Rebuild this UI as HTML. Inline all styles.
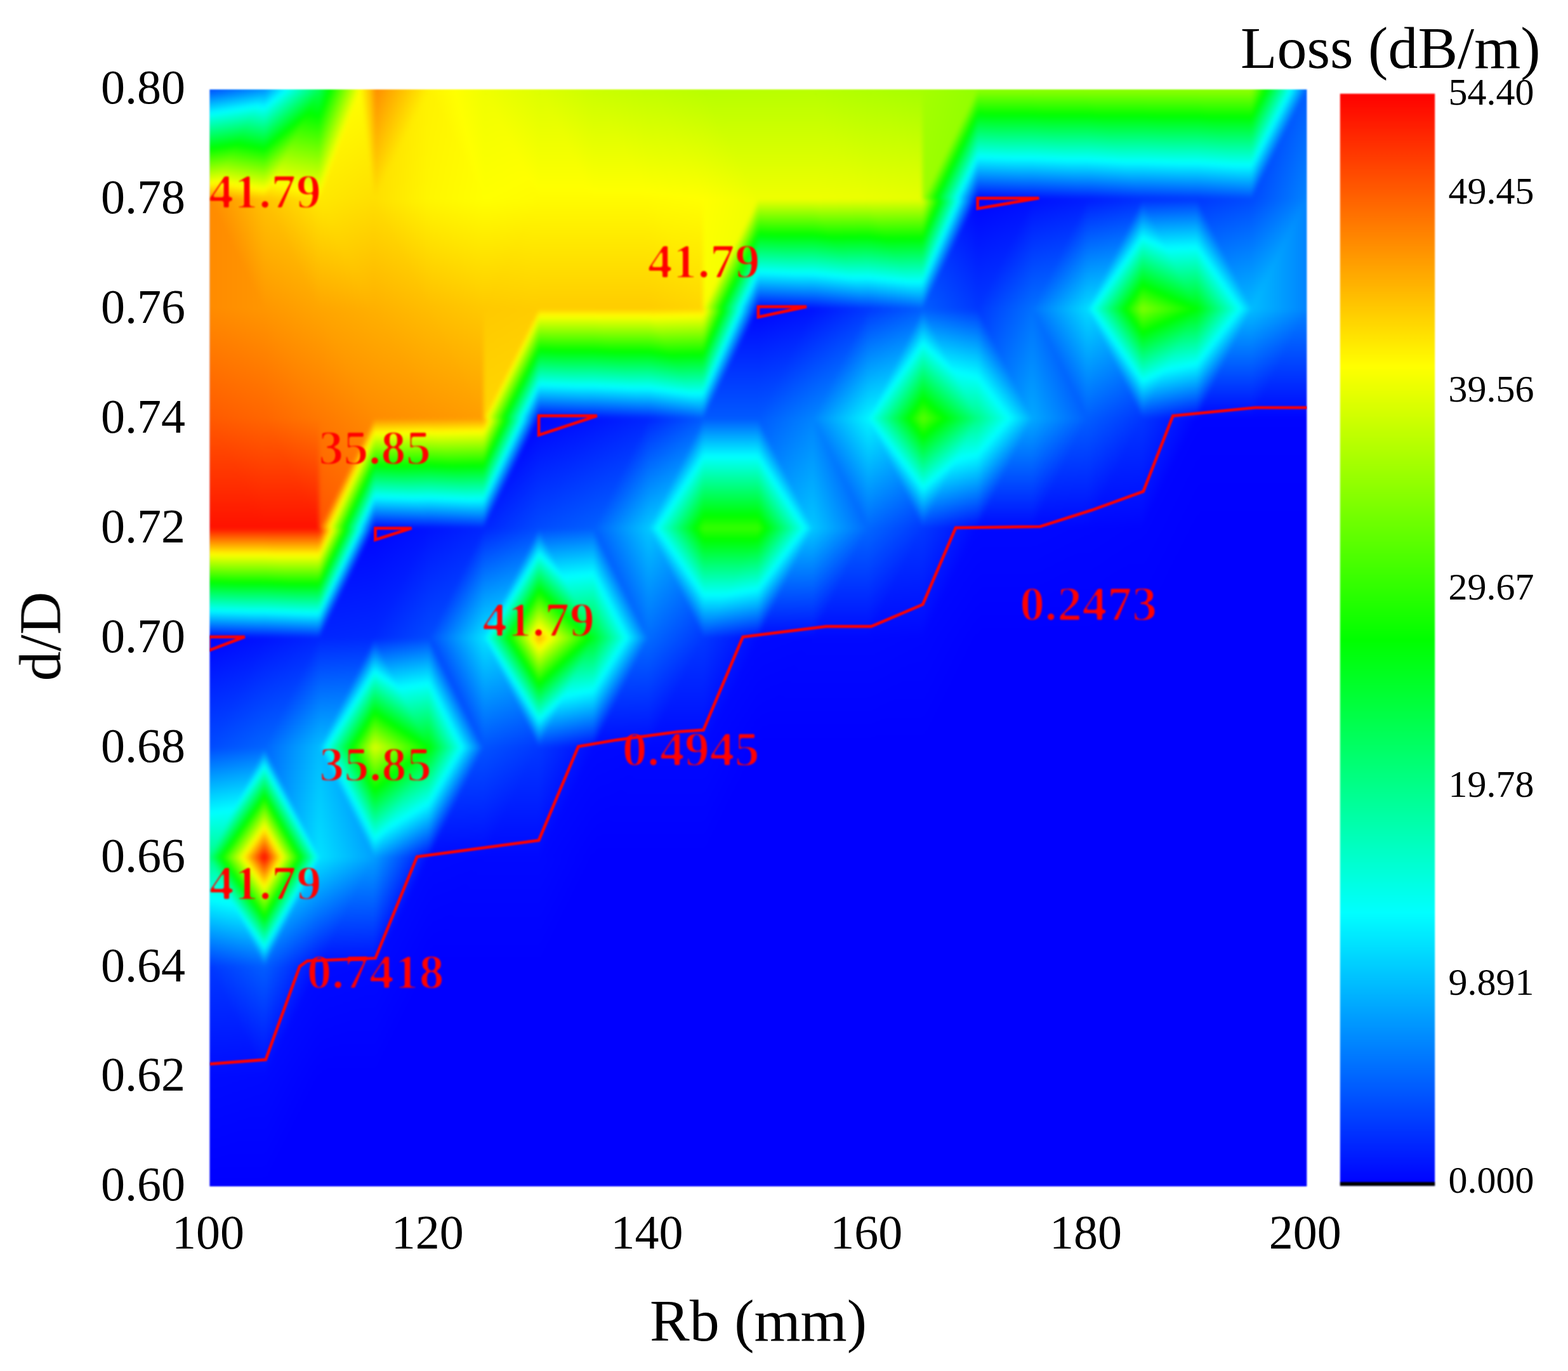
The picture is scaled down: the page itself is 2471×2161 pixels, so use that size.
<!DOCTYPE html>
<html lang="en">
<head>
<meta charset="utf-8">
<title>Loss (dB/m) contour map: d/D versus Rb (mm)</title>
<style>
html,body{margin:0;padding:0;background:#fff;}
body{width:2471px;height:2161px;overflow:hidden;}
svg{display:block;font-family:"Liberation Serif","DejaVu Serif",serif;}
.tk{font-size:76px;fill:#000;}
.cb{font-size:60px;fill:#000;}
.ttl{font-size:94px;fill:#000;}
.lab text{font-size:78.7px;font-weight:bold;fill:#ff0000;}
.cl path{fill:none;stroke:#ff0000;stroke-width:4.7;stroke-linejoin:miter;}
.map polygon{stroke-width:1.2;stroke-linejoin:round;}
</style>
</head>
<body>
<svg width="2471" height="2161" viewBox="0 0 2471 2161">
<defs>
<filter id="soft" filterUnits="userSpaceOnUse" x="300" y="110" width="1800" height="1800" color-interpolation-filters="sRGB"><feGaussianBlur stdDeviation="3.0"/><feComponentTransfer><feFuncA type="linear" slope="200" intercept="0"/></feComponentTransfer></filter>
<filter id="edge" filterUnits="userSpaceOnUse" x="300" y="110" width="2000" height="1800" color-interpolation-filters="sRGB"><feGaussianBlur stdDeviation="0.9"/></filter>
<filter id="softb" filterUnits="userSpaceOnUse" x="300" y="110" width="1800" height="1800" color-interpolation-filters="sRGB"><feGaussianBlur stdDeviation="1.5"/><feComponentTransfer><feFuncA type="linear" slope="2.5" intercept="-1.4"/></feComponentTransfer><feGaussianBlur stdDeviation="0.8"/></filter>
<filter id="softl" filterUnits="userSpaceOnUse" x="300" y="110" width="1800" height="1800" color-interpolation-filters="sRGB"><feGaussianBlur stdDeviation="1.2"/></filter>
<filter id="softt" filterUnits="userSpaceOnUse" x="0" y="0" width="2471" height="2161" color-interpolation-filters="sRGB"><feGaussianBlur stdDeviation="0.45"/></filter>
<clipPath id="pc"><rect x="330.5" y="141.1" width="1728.8" height="1728.8"/></clipPath>
<linearGradient id="cbg" x1="0" y1="1" x2="0" y2="0">
<stop offset="0" stop-color="#0000ff"/><stop offset="0.25" stop-color="#00ffff"/><stop offset="0.5" stop-color="#00ff00"/><stop offset="0.75" stop-color="#ffff00"/><stop offset="1" stop-color="#ff0000"/>
</linearGradient>
<linearGradient gradientUnits="userSpaceOnUse" id="g1" x1="388.1" y1="1869.9" x2="388.1" y2="1697.0"><stop offset="0" stop-color="#0000ff"/><stop offset="1" stop-color="#0009ff"/></linearGradient>
<linearGradient gradientUnits="userSpaceOnUse" id="g2" x1="391.0" y1="1849.7" x2="339.1" y2="1694.1"><stop offset="0" stop-color="#0000ff"/><stop offset="1" stop-color="#000bff"/></linearGradient>
<linearGradient gradientUnits="userSpaceOnUse" id="g3" x1="468.8" y1="1766.2" x2="399.7" y2="1731.6"><stop offset="0" stop-color="#0000ff"/><stop offset="1" stop-color="#0009ff"/></linearGradient>
<linearGradient gradientUnits="userSpaceOnUse" id="g4" x1="364.5" y1="1701.4" x2="349.6" y2="1522.6"><stop offset="0" stop-color="#0009ff"/><stop offset="1" stop-color="#0038ff"/></linearGradient>
<linearGradient gradientUnits="userSpaceOnUse" id="g5" x1="343.6" y1="1631.8" x2="429.5" y2="1535.3"><stop offset="0" stop-color="#0009ff"/><stop offset="1" stop-color="#005eff"/></linearGradient>
<linearGradient gradientUnits="userSpaceOnUse" id="g6" x1="521.2" y1="1667.4" x2="444.9" y2="1621.6"><stop offset="0" stop-color="#0000ff"/><stop offset="1" stop-color="#000bff"/></linearGradient>
<linearGradient gradientUnits="userSpaceOnUse" id="g7" x1="469.6" y1="1594.0" x2="399.6" y2="1558.1"><stop offset="0" stop-color="#0009ff"/><stop offset="1" stop-color="#005eff"/></linearGradient>
<linearGradient gradientUnits="userSpaceOnUse" id="g8" x1="561.0" y1="1697.0" x2="561.0" y2="1524.1"><stop offset="0" stop-color="#0000ff"/><stop offset="1" stop-color="#0009ff"/></linearGradient>
<linearGradient gradientUnits="userSpaceOnUse" id="g9" x1="563.9" y1="1676.9" x2="512.0" y2="1521.3"><stop offset="0" stop-color="#0000ff"/><stop offset="1" stop-color="#000bff"/></linearGradient>
<linearGradient gradientUnits="userSpaceOnUse" id="g10" x1="641.7" y1="1593.3" x2="572.5" y2="1558.7"><stop offset="0" stop-color="#0000ff"/><stop offset="1" stop-color="#0009ff"/></linearGradient>
<linearGradient gradientUnits="userSpaceOnUse" id="g11" x1="345.0" y1="1527.5" x2="383.5" y2="1363.7"><stop offset="0" stop-color="#0038ff"/><stop offset="0.6235" stop-color="#00ffff"/><stop offset="1" stop-color="#00ff87"/></linearGradient>
<linearGradient gradientUnits="userSpaceOnUse" id="g12" x1="352.5" y1="1434.4" x2="434.4" y2="1375.6"><stop offset="0" stop-color="#005eff"/><stop offset="0.1741" stop-color="#00ffff"/><stop offset="0.4494" stop-color="#00ff00"/><stop offset="0.7247" stop-color="#ffff00"/><stop offset="1" stop-color="#ff0000"/></linearGradient>
<linearGradient gradientUnits="userSpaceOnUse" id="g13" x1="513.2" y1="1516.6" x2="429.6" y2="1408.2"><stop offset="0" stop-color="#000bff"/><stop offset="1" stop-color="#00e1ff"/></linearGradient>
<linearGradient gradientUnits="userSpaceOnUse" id="g14" x1="474.4" y1="1425.6" x2="399.2" y2="1381.8"><stop offset="0" stop-color="#005eff"/><stop offset="0.1741" stop-color="#00ffff"/><stop offset="0.4494" stop-color="#00ff00"/><stop offset="0.7247" stop-color="#ffff00"/><stop offset="1" stop-color="#ff0000"/></linearGradient>
<linearGradient gradientUnits="userSpaceOnUse" id="g15" x1="562.5" y1="1524.8" x2="558.1" y2="1352.1"><stop offset="0" stop-color="#0009ff"/><stop offset="1" stop-color="#009fff"/></linearGradient>
<linearGradient gradientUnits="userSpaceOnUse" id="g16" x1="575.7" y1="1479.7" x2="498.6" y2="1354.2"><stop offset="0" stop-color="#000bff"/><stop offset="1" stop-color="#00e1ff"/></linearGradient>
<linearGradient gradientUnits="userSpaceOnUse" id="g17" x1="693.5" y1="1489.6" x2="624.4" y2="1455.0"><stop offset="0" stop-color="#0000ff"/><stop offset="1" stop-color="#0009ff"/></linearGradient>
<linearGradient gradientUnits="userSpaceOnUse" id="g18" x1="641.7" y1="1420.4" x2="572.5" y2="1385.8"><stop offset="0" stop-color="#0009ff"/><stop offset="1" stop-color="#009fff"/></linearGradient>
<linearGradient gradientUnits="userSpaceOnUse" id="g19" x1="733.9" y1="1524.1" x2="733.9" y2="1351.3"><stop offset="0" stop-color="#0000ff"/><stop offset="1" stop-color="#0008ff"/></linearGradient>
<linearGradient gradientUnits="userSpaceOnUse" id="g20" x1="740.8" y1="1498.3" x2="681.2" y2="1349.3"><stop offset="0" stop-color="#0000ff"/><stop offset="1" stop-color="#0009ff"/></linearGradient>
<linearGradient gradientUnits="userSpaceOnUse" id="g21" x1="820.3" y1="1524.1" x2="820.3" y2="1351.3"><stop offset="0" stop-color="#0000ff"/><stop offset="1" stop-color="#0008ff"/></linearGradient>
<linearGradient gradientUnits="userSpaceOnUse" id="g22" x1="791.5" y1="1524.1" x2="791.5" y2="1351.3"><stop offset="0" stop-color="#0000ff"/><stop offset="1" stop-color="#0008ff"/></linearGradient>
<linearGradient gradientUnits="userSpaceOnUse" id="g23" x1="901.0" y1="1420.4" x2="831.9" y2="1385.8"><stop offset="0" stop-color="#0000ff"/><stop offset="1" stop-color="#0008ff"/></linearGradient>
<linearGradient gradientUnits="userSpaceOnUse" id="g24" x1="352.8" y1="1268.5" x2="434.5" y2="1326.6"><stop offset="0" stop-color="#0065ff"/><stop offset="0.1673" stop-color="#00ffff"/><stop offset="0.4449" stop-color="#00ff00"/><stop offset="0.7224" stop-color="#ffff00"/><stop offset="1" stop-color="#ff0000"/></linearGradient>
<linearGradient gradientUnits="userSpaceOnUse" id="g25" x1="348.7" y1="1175.2" x2="378.0" y2="1342.9"><stop offset="0" stop-color="#004bff"/><stop offset="0.6" stop-color="#00ffff"/><stop offset="1" stop-color="#00ff87"/></linearGradient>
<linearGradient gradientUnits="userSpaceOnUse" id="g26" x1="474.1" y1="1277.3" x2="399.2" y2="1320.5"><stop offset="0" stop-color="#0065ff"/><stop offset="0.1673" stop-color="#00ffff"/><stop offset="0.4449" stop-color="#00ff00"/><stop offset="0.7224" stop-color="#ffff00"/><stop offset="1" stop-color="#ff0000"/></linearGradient>
<linearGradient gradientUnits="userSpaceOnUse" id="g27" x1="407.6" y1="1221.4" x2="526.0" y2="1247.2"><stop offset="0" stop-color="#0065ff"/><stop offset="1" stop-color="#00e1ff"/></linearGradient>
<linearGradient gradientUnits="userSpaceOnUse" id="g28" x1="570.2" y1="1282.8" x2="490.3" y2="1305.6"><stop offset="0" stop-color="#009fff"/><stop offset="1" stop-color="#00e1ff"/></linearGradient>
<linearGradient gradientUnits="userSpaceOnUse" id="g29" x1="536.1" y1="1249.1" x2="607.3" y2="1211.7"><stop offset="0" stop-color="#009fff"/><stop offset="0.1672" stop-color="#00ffff"/><stop offset="0.6131" stop-color="#00ff00"/><stop offset="1" stop-color="#ddff00"/></linearGradient>
<linearGradient gradientUnits="userSpaceOnUse" id="g30" x1="680.6" y1="1348.6" x2="604.1" y2="1221.9"><stop offset="0" stop-color="#0009ff"/><stop offset="0.4943" stop-color="#00ffff"/><stop offset="1" stop-color="#00ff04"/></linearGradient>
<linearGradient gradientUnits="userSpaceOnUse" id="g31" x1="663.6" y1="1293.2" x2="579.6" y2="1186.4"><stop offset="0" stop-color="#009fff"/><stop offset="0.1672" stop-color="#00ffff"/><stop offset="0.6131" stop-color="#00ff00"/><stop offset="1" stop-color="#ddff00"/></linearGradient>
<linearGradient gradientUnits="userSpaceOnUse" id="g32" x1="736.8" y1="1352.6" x2="728.2" y2="1180.1"><stop offset="0" stop-color="#0008ff"/><stop offset="1" stop-color="#0052ff"/></linearGradient>
<linearGradient gradientUnits="userSpaceOnUse" id="g33" x1="733.9" y1="1252.9" x2="658.5" y2="1208.7"><stop offset="0" stop-color="#0009ff"/><stop offset="0.4943" stop-color="#00ffff"/><stop offset="1" stop-color="#00ff04"/></linearGradient>
<linearGradient gradientUnits="userSpaceOnUse" id="g34" x1="820.3" y1="1351.3" x2="820.3" y2="1178.4"><stop offset="0" stop-color="#0008ff"/><stop offset="1" stop-color="#0038ff"/></linearGradient>
<linearGradient gradientUnits="userSpaceOnUse" id="g35" x1="836.2" y1="1299.8" x2="755.0" y2="1183.8"><stop offset="0" stop-color="#0008ff"/><stop offset="1" stop-color="#0052ff"/></linearGradient>
<linearGradient gradientUnits="userSpaceOnUse" id="g36" x1="953.4" y1="1322.8" x2="875.7" y2="1274.2"><stop offset="0" stop-color="#0000ff"/><stop offset="1" stop-color="#0009ff"/></linearGradient>
<linearGradient gradientUnits="userSpaceOnUse" id="g37" x1="902.4" y1="1248.7" x2="831.7" y2="1211.9"><stop offset="0" stop-color="#0008ff"/><stop offset="1" stop-color="#0038ff"/></linearGradient>
<linearGradient gradientUnits="userSpaceOnUse" id="g38" x1="993.2" y1="1351.3" x2="993.2" y2="1178.4"><stop offset="0" stop-color="#0000ff"/><stop offset="1" stop-color="#0008ff"/></linearGradient>
<linearGradient gradientUnits="userSpaceOnUse" id="g39" x1="1000.2" y1="1325.4" x2="940.5" y2="1176.4"><stop offset="0" stop-color="#0000ff"/><stop offset="1" stop-color="#0009ff"/></linearGradient>
<linearGradient gradientUnits="userSpaceOnUse" id="g40" x1="1079.6" y1="1351.3" x2="1079.6" y2="1178.4"><stop offset="0" stop-color="#0000ff"/><stop offset="1" stop-color="#0008ff"/></linearGradient>
<linearGradient gradientUnits="userSpaceOnUse" id="g41" x1="1050.8" y1="1351.3" x2="1050.8" y2="1178.4"><stop offset="0" stop-color="#0000ff"/><stop offset="1" stop-color="#0008ff"/></linearGradient>
<linearGradient gradientUnits="userSpaceOnUse" id="g42" x1="1160.3" y1="1247.5" x2="1091.2" y2="1213.0"><stop offset="0" stop-color="#0000ff"/><stop offset="1" stop-color="#0008ff"/></linearGradient>
<linearGradient gradientUnits="userSpaceOnUse" id="g43" x1="344.2" y1="1051.8" x2="422.5" y2="1174.8"><stop offset="0" stop-color="#0013ff"/><stop offset="1" stop-color="#0065ff"/></linearGradient>
<linearGradient gradientUnits="userSpaceOnUse" id="g44" x1="334.4" y1="1003.9" x2="396.2" y2="1150.7"><stop offset="0" stop-color="#0004ff"/><stop offset="1" stop-color="#004bff"/></linearGradient>
<linearGradient gradientUnits="userSpaceOnUse" id="g45" x1="433.9" y1="1085.4" x2="519.5" y2="1159.8"><stop offset="0" stop-color="#0026ff"/><stop offset="1" stop-color="#00bcff"/></linearGradient>
<linearGradient gradientUnits="userSpaceOnUse" id="g46" x1="419.1" y1="1004.5" x2="484.2" y2="1147.8"><stop offset="0" stop-color="#0013ff"/><stop offset="1" stop-color="#0065ff"/></linearGradient>
<linearGradient gradientUnits="userSpaceOnUse" id="g47" x1="529.4" y1="1100.7" x2="607.6" y2="1150.3"><stop offset="0" stop-color="#0029ff"/><stop offset="0.3098" stop-color="#00ffff"/><stop offset="0.6793" stop-color="#00ff00"/><stop offset="1" stop-color="#ddff00"/></linearGradient>
<linearGradient gradientUnits="userSpaceOnUse" id="g48" x1="529.2" y1="1004.2" x2="537.9" y2="1176.7"><stop offset="0" stop-color="#0026ff"/><stop offset="1" stop-color="#00bcff"/></linearGradient>
<linearGradient gradientUnits="userSpaceOnUse" id="g49" x1="662.8" y1="1053.1" x2="583.7" y2="1174.4"><stop offset="0" stop-color="#0029ff"/><stop offset="0.3098" stop-color="#00ffff"/><stop offset="0.6793" stop-color="#00ff00"/><stop offset="1" stop-color="#ddff00"/></linearGradient>
<linearGradient gradientUnits="userSpaceOnUse" id="g50" x1="637.3" y1="998.1" x2="665.7" y2="1180.0"><stop offset="0" stop-color="#0029ff"/><stop offset="0.4597" stop-color="#00ffff"/><stop offset="1" stop-color="#00ff04"/></linearGradient>
<linearGradient gradientUnits="userSpaceOnUse" id="g51" x1="728.8" y1="1108.7" x2="658.9" y2="1144.3"><stop offset="0" stop-color="#004bff"/><stop offset="0.4174" stop-color="#00ffff"/><stop offset="1" stop-color="#00ff04"/></linearGradient>
<linearGradient gradientUnits="userSpaceOnUse" id="g52" x1="709.2" y1="1074.9" x2="779.7" y2="1041.4"><stop offset="0" stop-color="#004bff"/><stop offset="1" stop-color="#00e1ff"/></linearGradient>
<linearGradient gradientUnits="userSpaceOnUse" id="g53" x1="817.1" y1="1190.2" x2="750.7" y2="1009.9"><stop offset="0" stop-color="#0038ff"/><stop offset="1" stop-color="#00e1ff"/></linearGradient>
<linearGradient gradientUnits="userSpaceOnUse" id="g54" x1="788.6" y1="1083.3" x2="866.9" y2="1033.5"><stop offset="0" stop-color="#0038ff"/><stop offset="0.2524" stop-color="#00ffff"/><stop offset="0.5762" stop-color="#00ff00"/><stop offset="0.9" stop-color="#ffff00"/><stop offset="1" stop-color="#ffb000"/></linearGradient>
<linearGradient gradientUnits="userSpaceOnUse" id="g55" x1="919.0" y1="1181.7" x2="885.7" y2="1015.5"><stop offset="0" stop-color="#0009ff"/><stop offset="0.524" stop-color="#00ffff"/><stop offset="1" stop-color="#00ff20"/></linearGradient>
<linearGradient gradientUnits="userSpaceOnUse" id="g56" x1="922.1" y1="1110.6" x2="835.9" y2="1017.8"><stop offset="0" stop-color="#0038ff"/><stop offset="0.2524" stop-color="#00ffff"/><stop offset="0.5762" stop-color="#00ff00"/><stop offset="0.9" stop-color="#ffff00"/><stop offset="1" stop-color="#ffb000"/></linearGradient>
<linearGradient gradientUnits="userSpaceOnUse" id="g57" x1="995.4" y1="1179.4" x2="988.9" y2="1006.7"><stop offset="0" stop-color="#0008ff"/><stop offset="1" stop-color="#006bff"/></linearGradient>
<linearGradient gradientUnits="userSpaceOnUse" id="g58" x1="995.8" y1="1083.0" x2="917.8" y2="1033.7"><stop offset="0" stop-color="#0009ff"/><stop offset="0.524" stop-color="#00ffff"/><stop offset="1" stop-color="#00ff20"/></linearGradient>
<linearGradient gradientUnits="userSpaceOnUse" id="g59" x1="1079.6" y1="1178.4" x2="1079.6" y2="1005.5"><stop offset="0" stop-color="#0008ff"/><stop offset="1" stop-color="#0038ff"/></linearGradient>
<linearGradient gradientUnits="userSpaceOnUse" id="g60" x1="1093.8" y1="1105.3" x2="1007.3" y2="1020.4"><stop offset="0" stop-color="#0008ff"/><stop offset="1" stop-color="#006bff"/></linearGradient>
<linearGradient gradientUnits="userSpaceOnUse" id="g61" x1="1212.7" y1="1149.9" x2="1135.0" y2="1101.3"><stop offset="0" stop-color="#0000ff"/><stop offset="1" stop-color="#0009ff"/></linearGradient>
<linearGradient gradientUnits="userSpaceOnUse" id="g62" x1="1161.8" y1="1075.9" x2="1091.0" y2="1039.1"><stop offset="0" stop-color="#0008ff"/><stop offset="1" stop-color="#0038ff"/></linearGradient>
<linearGradient gradientUnits="userSpaceOnUse" id="g63" x1="1252.5" y1="1178.4" x2="1252.5" y2="1005.5"><stop offset="0" stop-color="#0000ff"/><stop offset="1" stop-color="#0008ff"/></linearGradient>
<linearGradient gradientUnits="userSpaceOnUse" id="g64" x1="1259.5" y1="1152.5" x2="1199.9" y2="1003.5"><stop offset="0" stop-color="#0000ff"/><stop offset="1" stop-color="#0009ff"/></linearGradient>
<linearGradient gradientUnits="userSpaceOnUse" id="g65" x1="1339.0" y1="1178.4" x2="1339.0" y2="1005.5"><stop offset="0" stop-color="#0000ff"/><stop offset="1" stop-color="#0008ff"/></linearGradient>
<linearGradient gradientUnits="userSpaceOnUse" id="g66" x1="1310.2" y1="1178.4" x2="1310.2" y2="1005.5"><stop offset="0" stop-color="#0000ff"/><stop offset="1" stop-color="#0008ff"/></linearGradient>
<linearGradient gradientUnits="userSpaceOnUse" id="g67" x1="1425.4" y1="1178.4" x2="1425.4" y2="1005.5"><stop offset="0" stop-color="#0000ff"/><stop offset="1" stop-color="#0006ff"/></linearGradient>
<linearGradient gradientUnits="userSpaceOnUse" id="g68" x1="1436.9" y1="1143.8" x2="1367.8" y2="1005.5"><stop offset="0" stop-color="#0000ff"/><stop offset="1" stop-color="#0008ff"/></linearGradient>
<linearGradient gradientUnits="userSpaceOnUse" id="g69" x1="1506.1" y1="1074.7" x2="1436.9" y2="1040.1"><stop offset="0" stop-color="#0000ff"/><stop offset="1" stop-color="#0006ff"/></linearGradient>
<linearGradient gradientUnits="userSpaceOnUse" id="g70" x1="357.6" y1="1006.3" x2="362.7" y2="833.6"><stop offset="0" stop-color="#0004ff"/><stop offset="0.2514" stop-color="#00ffff"/><stop offset="0.5066" stop-color="#00ff00"/><stop offset="0.7617" stop-color="#ffff00"/><stop offset="1" stop-color="#ff1100"/></linearGradient>
<linearGradient gradientUnits="userSpaceOnUse" id="g71" x1="388.1" y1="1005.5" x2="388.1" y2="832.6"><stop offset="0" stop-color="#0013ff"/><stop offset="0.24" stop-color="#00ffff"/><stop offset="0.499" stop-color="#00ff00"/><stop offset="0.7581" stop-color="#ffff00"/><stop offset="1" stop-color="#ff1100"/></linearGradient>
<linearGradient gradientUnits="userSpaceOnUse" id="g72" x1="443.5" y1="1006.5" x2="450.1" y2="833.9"><stop offset="0" stop-color="#0013ff"/><stop offset="0.24" stop-color="#00ffff"/><stop offset="0.499" stop-color="#00ff00"/><stop offset="0.7581" stop-color="#ffff00"/><stop offset="1" stop-color="#ff1100"/></linearGradient>
<linearGradient gradientUnits="userSpaceOnUse" id="g73" x1="474.6" y1="1005.5" x2="474.6" y2="832.6"><stop offset="0" stop-color="#0026ff"/><stop offset="0.2252" stop-color="#00ffff"/><stop offset="0.4893" stop-color="#00ff00"/><stop offset="0.7534" stop-color="#ffff00"/><stop offset="1" stop-color="#ff1100"/></linearGradient>
<linearGradient gradientUnits="userSpaceOnUse" id="g74" x1="540.0" y1="842.6" x2="573.2" y2="1008.8"><stop offset="0" stop-color="#0004ff"/><stop offset="1" stop-color="#0029ff"/></linearGradient>
<linearGradient gradientUnits="userSpaceOnUse" id="g75" x1="556.3" y1="901.9" x2="486.3" y2="868.1"><stop offset="0" stop-color="#0004ff"/><stop offset="0.2514" stop-color="#00ffff"/><stop offset="0.5066" stop-color="#00ff00"/><stop offset="0.7617" stop-color="#ffff00"/><stop offset="1" stop-color="#ff1100"/></linearGradient>
<linearGradient gradientUnits="userSpaceOnUse" id="g76" x1="607.8" y1="914.8" x2="692.8" y2="985.7"><stop offset="0" stop-color="#0013ff"/><stop offset="1" stop-color="#004bff"/></linearGradient>
<linearGradient gradientUnits="userSpaceOnUse" id="g77" x1="579.3" y1="841.1" x2="663.6" y2="946.5"><stop offset="0" stop-color="#0004ff"/><stop offset="1" stop-color="#0029ff"/></linearGradient>
<linearGradient gradientUnits="userSpaceOnUse" id="g78" x1="702.8" y1="928.4" x2="780.5" y2="977.0"><stop offset="0" stop-color="#0026ff"/><stop offset="1" stop-color="#00e1ff"/></linearGradient>
<linearGradient gradientUnits="userSpaceOnUse" id="g79" x1="669.6" y1="837.1" x2="749.4" y2="956.7"><stop offset="0" stop-color="#0013ff"/><stop offset="1" stop-color="#004bff"/></linearGradient>
<linearGradient gradientUnits="userSpaceOnUse" id="g80" x1="789.5" y1="928.7" x2="866.9" y2="976.8"><stop offset="0" stop-color="#004bff"/><stop offset="0.2341" stop-color="#00ffff"/><stop offset="0.5659" stop-color="#00ff00"/><stop offset="0.8976" stop-color="#ffff00"/><stop offset="1" stop-color="#ffb000"/></linearGradient>
<linearGradient gradientUnits="userSpaceOnUse" id="g81" x1="767.7" y1="830.6" x2="827.3" y2="979.7"><stop offset="0" stop-color="#0026ff"/><stop offset="1" stop-color="#00e1ff"/></linearGradient>
<linearGradient gradientUnits="userSpaceOnUse" id="g82" x1="921.8" y1="901.8" x2="835.5" y2="992.5"><stop offset="0" stop-color="#004bff"/><stop offset="0.2341" stop-color="#00ffff"/><stop offset="0.5659" stop-color="#00ff00"/><stop offset="0.8976" stop-color="#ffff00"/><stop offset="1" stop-color="#ffb000"/></linearGradient>
<linearGradient gradientUnits="userSpaceOnUse" id="g83" x1="900.7" y1="827.6" x2="918.2" y2="1007.2"><stop offset="0" stop-color="#004bff"/><stop offset="0.4465" stop-color="#00ffff"/><stop offset="1" stop-color="#00ff20"/></linearGradient>
<linearGradient gradientUnits="userSpaceOnUse" id="g84" x1="988.7" y1="935.3" x2="918.1" y2="971.8"><stop offset="0" stop-color="#005eff"/><stop offset="0.4195" stop-color="#00ffff"/><stop offset="1" stop-color="#00ff20"/></linearGradient>
<linearGradient gradientUnits="userSpaceOnUse" id="g85" x1="966.0" y1="902.1" x2="1038.6" y2="870.4"><stop offset="0" stop-color="#005eff"/><stop offset="1" stop-color="#00c7ff"/></linearGradient>
<linearGradient gradientUnits="userSpaceOnUse" id="g86" x1="1111.1" y1="1002.6" x2="977.7" y2="881.5"><stop offset="0" stop-color="#0038ff"/><stop offset="1" stop-color="#00c7ff"/></linearGradient>
<linearGradient gradientUnits="userSpaceOnUse" id="g87" x1="1045.0" y1="914.3" x2="1126.1" y2="857.9"><stop offset="0" stop-color="#0038ff"/><stop offset="0.3926" stop-color="#00ffff"/><stop offset="0.8963" stop-color="#00ff00"/><stop offset="1" stop-color="#35ff00"/></linearGradient>
<linearGradient gradientUnits="userSpaceOnUse" id="g88" x1="1176.4" y1="1008.6" x2="1147.9" y2="840.6"><stop offset="0" stop-color="#0009ff"/><stop offset="0.4441" stop-color="#00ffff"/><stop offset="0.9051" stop-color="#00ff00"/><stop offset="1" stop-color="#35ff00"/></linearGradient>
<linearGradient gradientUnits="userSpaceOnUse" id="g89" x1="1137.3" y1="1005.5" x2="1137.3" y2="832.6"><stop offset="0" stop-color="#0038ff"/><stop offset="0.3926" stop-color="#00ffff"/><stop offset="0.8963" stop-color="#00ff00"/><stop offset="1" stop-color="#35ff00"/></linearGradient>
<linearGradient gradientUnits="userSpaceOnUse" id="g90" x1="1253.7" y1="1006.0" x2="1250.3" y2="833.2"><stop offset="0" stop-color="#0008ff"/><stop offset="1" stop-color="#00c7ff"/></linearGradient>
<linearGradient gradientUnits="userSpaceOnUse" id="g91" x1="1261.0" y1="918.6" x2="1177.7" y2="855.3"><stop offset="0" stop-color="#0009ff"/><stop offset="0.4441" stop-color="#00ffff"/><stop offset="0.9051" stop-color="#00ff00"/><stop offset="1" stop-color="#35ff00"/></linearGradient>
<linearGradient gradientUnits="userSpaceOnUse" id="g92" x1="1339.0" y1="1005.5" x2="1339.0" y2="832.6"><stop offset="0" stop-color="#0008ff"/><stop offset="1" stop-color="#0067ff"/></linearGradient>
<linearGradient gradientUnits="userSpaceOnUse" id="g93" x1="1353.4" y1="933.5" x2="1266.9" y2="847.0"><stop offset="0" stop-color="#0008ff"/><stop offset="1" stop-color="#00c7ff"/></linearGradient>
<linearGradient gradientUnits="userSpaceOnUse" id="g94" x1="1429.8" y1="1007.3" x2="1417.1" y2="835.4"><stop offset="0" stop-color="#0006ff"/><stop offset="1" stop-color="#0038ff"/></linearGradient>
<linearGradient gradientUnits="userSpaceOnUse" id="g95" x1="1440.1" y1="934.6" x2="1353.7" y2="846.5"><stop offset="0" stop-color="#0008ff"/><stop offset="1" stop-color="#0067ff"/></linearGradient>
<linearGradient gradientUnits="userSpaceOnUse" id="g96" x1="1558.4" y1="978.9" x2="1478.6" y2="925.7"><stop offset="0" stop-color="#0000ff"/><stop offset="1" stop-color="#0008ff"/></linearGradient>
<linearGradient gradientUnits="userSpaceOnUse" id="g97" x1="1507.5" y1="902.9" x2="1436.8" y2="866.2"><stop offset="0" stop-color="#0006ff"/><stop offset="1" stop-color="#0038ff"/></linearGradient>
<linearGradient gradientUnits="userSpaceOnUse" id="g98" x1="1598.3" y1="1005.5" x2="1598.3" y2="832.6"><stop offset="0" stop-color="#0000ff"/><stop offset="1" stop-color="#0008ff"/></linearGradient>
<linearGradient gradientUnits="userSpaceOnUse" id="g99" x1="1569.5" y1="1005.5" x2="1569.5" y2="832.6"><stop offset="0" stop-color="#0000ff"/><stop offset="1" stop-color="#0008ff"/></linearGradient>
<linearGradient gradientUnits="userSpaceOnUse" id="g100" x1="1684.7" y1="1005.5" x2="1684.7" y2="832.6"><stop offset="0" stop-color="#0000ff"/><stop offset="1" stop-color="#0006ff"/></linearGradient>
<linearGradient gradientUnits="userSpaceOnUse" id="g101" x1="1696.3" y1="970.9" x2="1627.1" y2="832.6"><stop offset="0" stop-color="#0000ff"/><stop offset="1" stop-color="#0008ff"/></linearGradient>
<linearGradient gradientUnits="userSpaceOnUse" id="g102" x1="1771.2" y1="1005.5" x2="1771.2" y2="832.6"><stop offset="0" stop-color="#0000ff"/><stop offset="1" stop-color="#0004ff"/></linearGradient>
<linearGradient gradientUnits="userSpaceOnUse" id="g103" x1="1786.7" y1="956.7" x2="1706.9" y2="837.1"><stop offset="0" stop-color="#0000ff"/><stop offset="1" stop-color="#0006ff"/></linearGradient>
<linearGradient gradientUnits="userSpaceOnUse" id="g104" x1="1851.8" y1="901.8" x2="1782.7" y2="867.2"><stop offset="0" stop-color="#0000ff"/><stop offset="1" stop-color="#0004ff"/></linearGradient>
<linearGradient gradientUnits="userSpaceOnUse" id="g105" x1="359.3" y1="659.7" x2="359.3" y2="832.6"><stop offset="0" stop-color="#ff5a00"/><stop offset="1" stop-color="#ff1100"/></linearGradient>
<linearGradient gradientUnits="userSpaceOnUse" id="g106" x1="404.4" y1="656.4" x2="361.3" y2="817.8"><stop offset="0" stop-color="#ff6500"/><stop offset="1" stop-color="#ff1100"/></linearGradient>
<linearGradient gradientUnits="userSpaceOnUse" id="g107" x1="445.8" y1="659.7" x2="445.8" y2="832.6"><stop offset="0" stop-color="#ff6500"/><stop offset="1" stop-color="#ff1100"/></linearGradient>
<linearGradient gradientUnits="userSpaceOnUse" id="g108" x1="496.4" y1="657.2" x2="440.9" y2="809.9"><stop offset="0" stop-color="#ff7800"/><stop offset="1" stop-color="#ff1100"/></linearGradient>
<linearGradient gradientUnits="userSpaceOnUse" id="g109" x1="606.8" y1="796.5" x2="536.0" y2="763.2"><stop offset="0" stop-color="#0004ff"/><stop offset="0.2691" stop-color="#00ffff"/><stop offset="0.5422" stop-color="#00ff00"/><stop offset="0.8153" stop-color="#ffff00"/><stop offset="1" stop-color="#ff5200"/></linearGradient>
<linearGradient gradientUnits="userSpaceOnUse" id="g110" x1="589.8" y1="659.7" x2="460.2" y2="789.4"><stop offset="0" stop-color="#ff8b00"/><stop offset="1" stop-color="#ff5200"/></linearGradient>
<linearGradient gradientUnits="userSpaceOnUse" id="g111" x1="616.6" y1="833.5" x2="622.5" y2="660.9"><stop offset="0" stop-color="#0004ff"/><stop offset="0.2863" stop-color="#00ffff"/><stop offset="0.5769" stop-color="#00ff00"/><stop offset="0.8675" stop-color="#ffff00"/><stop offset="1" stop-color="#ff8b00"/></linearGradient>
<linearGradient gradientUnits="userSpaceOnUse" id="g112" x1="650.0" y1="833.2" x2="646.2" y2="658.5"><stop offset="0" stop-color="#0013ff"/><stop offset="0.2739" stop-color="#00ffff"/><stop offset="0.5696" stop-color="#00ff00"/><stop offset="0.8652" stop-color="#ffff00"/><stop offset="1" stop-color="#ff8b00"/></linearGradient>
<linearGradient gradientUnits="userSpaceOnUse" id="g113" x1="702.5" y1="833.8" x2="710.1" y2="661.2"><stop offset="0" stop-color="#0013ff"/><stop offset="0.2769" stop-color="#00ffff"/><stop offset="0.5758" stop-color="#00ff00"/><stop offset="0.8747" stop-color="#ffff00"/><stop offset="1" stop-color="#ff9400"/></linearGradient>
<linearGradient gradientUnits="userSpaceOnUse" id="g114" x1="736.5" y1="833.2" x2="732.5" y2="658.5"><stop offset="0" stop-color="#0026ff"/><stop offset="0.2607" stop-color="#00ffff"/><stop offset="0.5663" stop-color="#00ff00"/><stop offset="0.8719" stop-color="#ffff00"/><stop offset="1" stop-color="#ff9400"/></linearGradient>
<linearGradient gradientUnits="userSpaceOnUse" id="g115" x1="777.9" y1="734.7" x2="864.2" y2="816.7"><stop offset="0" stop-color="#0004ff"/><stop offset="1" stop-color="#004bff"/></linearGradient>
<linearGradient gradientUnits="userSpaceOnUse" id="g116" x1="815.8" y1="729.1" x2="745.6" y2="695.3"><stop offset="0" stop-color="#0004ff"/><stop offset="0.2926" stop-color="#00ffff"/><stop offset="0.5895" stop-color="#00ff00"/><stop offset="0.8865" stop-color="#ffff00"/><stop offset="1" stop-color="#ff9e00"/></linearGradient>
<linearGradient gradientUnits="userSpaceOnUse" id="g117" x1="866.4" y1="694.3" x2="935.6" y2="832.6"><stop offset="0" stop-color="#0013ff"/><stop offset="1" stop-color="#005eff"/></linearGradient>
<linearGradient gradientUnits="userSpaceOnUse" id="g118" x1="853.0" y1="658.1" x2="914.8" y2="805.0"><stop offset="0" stop-color="#0004ff"/><stop offset="1" stop-color="#004bff"/></linearGradient>
<linearGradient gradientUnits="userSpaceOnUse" id="g119" x1="955.7" y1="746.2" x2="1039.2" y2="810.3"><stop offset="0" stop-color="#0026ff"/><stop offset="1" stop-color="#00c7ff"/></linearGradient>
<linearGradient gradientUnits="userSpaceOnUse" id="g120" x1="935.6" y1="659.7" x2="1004.7" y2="798.0"><stop offset="0" stop-color="#0013ff"/><stop offset="1" stop-color="#005eff"/></linearGradient>
<linearGradient gradientUnits="userSpaceOnUse" id="g121" x1="1047.3" y1="754.0" x2="1126.2" y2="805.3"><stop offset="0" stop-color="#005aff"/><stop offset="0.3492" stop-color="#00ffff"/><stop offset="0.8889" stop-color="#00ff00"/><stop offset="1" stop-color="#35ff00"/></linearGradient>
<linearGradient gradientUnits="userSpaceOnUse" id="g122" x1="1015.9" y1="663.7" x2="1095.0" y2="785.1"><stop offset="0" stop-color="#0026ff"/><stop offset="1" stop-color="#00c7ff"/></linearGradient>
<linearGradient gradientUnits="userSpaceOnUse" id="g123" x1="1166.1" y1="659.7" x2="1166.1" y2="832.6"><stop offset="0" stop-color="#005aff"/><stop offset="0.3492" stop-color="#00ffff"/><stop offset="0.8889" stop-color="#00ff00"/><stop offset="1" stop-color="#35ff00"/></linearGradient>
<linearGradient gradientUnits="userSpaceOnUse" id="g124" x1="1137.3" y1="659.7" x2="1137.3" y2="832.6"><stop offset="0" stop-color="#005aff"/><stop offset="0.3492" stop-color="#00ffff"/><stop offset="0.8889" stop-color="#00ff00"/><stop offset="1" stop-color="#35ff00"/></linearGradient>
<linearGradient gradientUnits="userSpaceOnUse" id="g125" x1="1256.1" y1="754.0" x2="1177.1" y2="805.3"><stop offset="0" stop-color="#005aff"/><stop offset="0.3492" stop-color="#00ffff"/><stop offset="0.8889" stop-color="#00ff00"/><stop offset="1" stop-color="#35ff00"/></linearGradient>
<linearGradient gradientUnits="userSpaceOnUse" id="g126" x1="1189.8" y1="666.0" x2="1326.3" y2="777.7"><stop offset="0" stop-color="#005aff"/><stop offset="1" stop-color="#00c7ff"/></linearGradient>
<linearGradient gradientUnits="userSpaceOnUse" id="g127" x1="1343.3" y1="763.3" x2="1266.4" y2="790.4"><stop offset="0" stop-color="#0067ff"/><stop offset="1" stop-color="#00c7ff"/></linearGradient>
<linearGradient gradientUnits="userSpaceOnUse" id="g128" x1="1307.9" y1="736.8" x2="1385.6" y2="688.2"><stop offset="0" stop-color="#0067ff"/><stop offset="1" stop-color="#00f4ff"/></linearGradient>
<linearGradient gradientUnits="userSpaceOnUse" id="g129" x1="1440.9" y1="841.5" x2="1334.5" y2="681.9"><stop offset="0" stop-color="#0038ff"/><stop offset="1" stop-color="#00f4ff"/></linearGradient>
<linearGradient gradientUnits="userSpaceOnUse" id="g130" x1="1388.0" y1="745.9" x2="1471.4" y2="682.3"><stop offset="0" stop-color="#0038ff"/><stop offset="0.3655" stop-color="#00ffff"/><stop offset="0.8345" stop-color="#00ff00"/><stop offset="1" stop-color="#5aff00"/></linearGradient>
<linearGradient gradientUnits="userSpaceOnUse" id="g131" x1="1528.0" y1="836.0" x2="1485.2" y2="674.5"><stop offset="0" stop-color="#0008ff"/><stop offset="0.6735" stop-color="#00ffff"/><stop offset="1" stop-color="#00ff87"/></linearGradient>
<linearGradient gradientUnits="userSpaceOnUse" id="g132" x1="1527.9" y1="771.6" x2="1443.0" y2="669.0"><stop offset="0" stop-color="#0038ff"/><stop offset="0.3655" stop-color="#00ffff"/><stop offset="0.8345" stop-color="#00ff00"/><stop offset="1" stop-color="#5aff00"/></linearGradient>
<linearGradient gradientUnits="userSpaceOnUse" id="g133" x1="1598.3" y1="832.6" x2="1598.3" y2="659.7"><stop offset="0" stop-color="#0008ff"/><stop offset="1" stop-color="#00a9ff"/></linearGradient>
<linearGradient gradientUnits="userSpaceOnUse" id="g134" x1="1610.7" y1="754.1" x2="1524.8" y2="677.6"><stop offset="0" stop-color="#0008ff"/><stop offset="0.6735" stop-color="#00ffff"/><stop offset="1" stop-color="#00ff87"/></linearGradient>
<linearGradient gradientUnits="userSpaceOnUse" id="g135" x1="1687.2" y1="833.7" x2="1679.9" y2="661.2"><stop offset="0" stop-color="#0006ff"/><stop offset="1" stop-color="#005eff"/></linearGradient>
<linearGradient gradientUnits="userSpaceOnUse" id="g136" x1="1700.0" y1="764.8" x2="1613.8" y2="672.1"><stop offset="0" stop-color="#0008ff"/><stop offset="1" stop-color="#00a9ff"/></linearGradient>
<linearGradient gradientUnits="userSpaceOnUse" id="g137" x1="1775.6" y1="834.4" x2="1762.8" y2="662.5"><stop offset="0" stop-color="#0004ff"/><stop offset="1" stop-color="#0036ff"/></linearGradient>
<linearGradient gradientUnits="userSpaceOnUse" id="g138" x1="1786.8" y1="767.1" x2="1700.9" y2="671.0"><stop offset="0" stop-color="#0006ff"/><stop offset="1" stop-color="#005eff"/></linearGradient>
<linearGradient gradientUnits="userSpaceOnUse" id="g139" x1="1903.7" y1="798.0" x2="1834.6" y2="763.5"><stop offset="0" stop-color="#0000ff"/><stop offset="1" stop-color="#0004ff"/></linearGradient>
<linearGradient gradientUnits="userSpaceOnUse" id="g140" x1="1851.8" y1="728.9" x2="1782.7" y2="694.3"><stop offset="0" stop-color="#0004ff"/><stop offset="1" stop-color="#0036ff"/></linearGradient>
<linearGradient gradientUnits="userSpaceOnUse" id="g141" x1="1944.0" y1="832.6" x2="1944.0" y2="659.7"><stop offset="0" stop-color="#0000ff"/><stop offset="1" stop-color="#0004ff"/></linearGradient>
<linearGradient gradientUnits="userSpaceOnUse" id="g142" x1="1915.2" y1="832.6" x2="1915.2" y2="659.7"><stop offset="0" stop-color="#0000ff"/><stop offset="1" stop-color="#0004ff"/></linearGradient>
<linearGradient gradientUnits="userSpaceOnUse" id="g143" x1="2030.5" y1="832.6" x2="2030.5" y2="659.7"><stop offset="0" stop-color="#0000ff"/><stop offset="1" stop-color="#0004ff"/></linearGradient>
<linearGradient gradientUnits="userSpaceOnUse" id="g144" x1="2001.7" y1="832.6" x2="2001.7" y2="659.7"><stop offset="0" stop-color="#0000ff"/><stop offset="1" stop-color="#0004ff"/></linearGradient>
<linearGradient gradientUnits="userSpaceOnUse" id="g145" x1="398.1" y1="518.1" x2="332.3" y2="660.6"><stop offset="0" stop-color="#ff8b00"/><stop offset="1" stop-color="#ff5a00"/></linearGradient>
<linearGradient gradientUnits="userSpaceOnUse" id="g146" x1="415.1" y1="486.0" x2="349.3" y2="628.5"><stop offset="0" stop-color="#ff9600"/><stop offset="1" stop-color="#ff6500"/></linearGradient>
<linearGradient gradientUnits="userSpaceOnUse" id="g147" x1="490.7" y1="543.6" x2="407.2" y2="652.2"><stop offset="0" stop-color="#ff9600"/><stop offset="1" stop-color="#ff6500"/></linearGradient>
<linearGradient gradientUnits="userSpaceOnUse" id="g148" x1="510.0" y1="491.3" x2="430.2" y2="611.0"><stop offset="0" stop-color="#ffa500"/><stop offset="1" stop-color="#ff7800"/></linearGradient>
<linearGradient gradientUnits="userSpaceOnUse" id="g149" x1="577.1" y1="548.3" x2="492.0" y2="650.3"><stop offset="0" stop-color="#ffa500"/><stop offset="1" stop-color="#ff7800"/></linearGradient>
<linearGradient gradientUnits="userSpaceOnUse" id="g150" x1="594.1" y1="489.4" x2="517.8" y2="616.5"><stop offset="0" stop-color="#ffb000"/><stop offset="1" stop-color="#ff8b00"/></linearGradient>
<linearGradient gradientUnits="userSpaceOnUse" id="g151" x1="659.0" y1="521.4" x2="589.8" y2="659.7"><stop offset="0" stop-color="#ffb000"/><stop offset="1" stop-color="#ff8b00"/></linearGradient>
<linearGradient gradientUnits="userSpaceOnUse" id="g152" x1="681.9" y1="490.4" x2="603.5" y2="613.5"><stop offset="0" stop-color="#ffbd00"/><stop offset="1" stop-color="#ff9400"/></linearGradient>
<linearGradient gradientUnits="userSpaceOnUse" id="g153" x1="743.6" y1="517.4" x2="678.4" y2="660.7"><stop offset="0" stop-color="#ffbd00"/><stop offset="1" stop-color="#ff9400"/></linearGradient>
<linearGradient gradientUnits="userSpaceOnUse" id="g154" x1="763.7" y1="487.4" x2="692.8" y2="623.3"><stop offset="0" stop-color="#ffc900"/><stop offset="1" stop-color="#ff9e00"/></linearGradient>
<linearGradient gradientUnits="userSpaceOnUse" id="g155" x1="866.5" y1="625.5" x2="796.8" y2="590.2"><stop offset="0" stop-color="#0004ff"/><stop offset="0.3095" stop-color="#00ffff"/><stop offset="0.6236" stop-color="#00ff00"/><stop offset="0.9376" stop-color="#ffff00"/><stop offset="1" stop-color="#ffcc00"/></linearGradient>
<linearGradient gradientUnits="userSpaceOnUse" id="g156" x1="834.1" y1="619.0" x2="759.6" y2="488.6"><stop offset="0" stop-color="#ffd600"/><stop offset="1" stop-color="#ffc900"/></linearGradient>
<linearGradient gradientUnits="userSpaceOnUse" id="g157" x1="875.8" y1="660.7" x2="882.2" y2="488.1"><stop offset="0" stop-color="#0004ff"/><stop offset="0.3095" stop-color="#00ffff"/><stop offset="0.6236" stop-color="#00ff00"/><stop offset="0.9376" stop-color="#ffff00"/><stop offset="1" stop-color="#ffcc00"/></linearGradient>
<linearGradient gradientUnits="userSpaceOnUse" id="g158" x1="906.8" y1="659.7" x2="906.8" y2="486.9"><stop offset="0" stop-color="#0013ff"/><stop offset="0.2965" stop-color="#00ffff"/><stop offset="0.6165" stop-color="#00ff00"/><stop offset="0.9365" stop-color="#ffff00"/><stop offset="1" stop-color="#ffcc00"/></linearGradient>
<linearGradient gradientUnits="userSpaceOnUse" id="g159" x1="961.6" y1="661.0" x2="969.7" y2="488.5"><stop offset="0" stop-color="#0013ff"/><stop offset="0.2965" stop-color="#00ffff"/><stop offset="0.6165" stop-color="#00ff00"/><stop offset="0.9365" stop-color="#ffff00"/><stop offset="1" stop-color="#ffcc00"/></linearGradient>
<linearGradient gradientUnits="userSpaceOnUse" id="g160" x1="993.2" y1="659.7" x2="993.2" y2="486.9"><stop offset="0" stop-color="#0026ff"/><stop offset="0.2795" stop-color="#00ffff"/><stop offset="0.6072" stop-color="#00ff00"/><stop offset="0.9349" stop-color="#ffff00"/><stop offset="1" stop-color="#ffcc00"/></linearGradient>
<linearGradient gradientUnits="userSpaceOnUse" id="g161" x1="1042.7" y1="662.5" x2="1065.6" y2="492.7"><stop offset="0" stop-color="#0026ff"/><stop offset="0.2795" stop-color="#00ffff"/><stop offset="0.6072" stop-color="#00ff00"/><stop offset="0.9349" stop-color="#ffff00"/><stop offset="1" stop-color="#ffcc00"/></linearGradient>
<linearGradient gradientUnits="userSpaceOnUse" id="g162" x1="1082.7" y1="660.4" x2="1078.1" y2="485.4"><stop offset="0" stop-color="#005aff"/><stop offset="0.2274" stop-color="#00ffff"/><stop offset="0.5788" stop-color="#00ff00"/><stop offset="0.9302" stop-color="#ffff00"/><stop offset="1" stop-color="#ffcc00"/></linearGradient>
<linearGradient gradientUnits="userSpaceOnUse" id="g163" x1="1166.1" y1="486.9" x2="1166.1" y2="659.7"><stop offset="0" stop-color="#0004ff"/><stop offset="1" stop-color="#005aff"/></linearGradient>
<linearGradient gradientUnits="userSpaceOnUse" id="g164" x1="1163.9" y1="556.4" x2="1091.8" y2="524.2"><stop offset="0" stop-color="#0004ff"/><stop offset="0.3131" stop-color="#00ffff"/><stop offset="0.6308" stop-color="#00ff00"/><stop offset="0.9486" stop-color="#ffff00"/><stop offset="1" stop-color="#ffd600"/></linearGradient>
<linearGradient gradientUnits="userSpaceOnUse" id="g165" x1="1207.6" y1="540.9" x2="1290.1" y2="653.3"><stop offset="0" stop-color="#0013ff"/><stop offset="1" stop-color="#0083ff"/></linearGradient>
<linearGradient gradientUnits="userSpaceOnUse" id="g166" x1="1202.7" y1="484.1" x2="1256.4" y2="638.4"><stop offset="0" stop-color="#0004ff"/><stop offset="1" stop-color="#005aff"/></linearGradient>
<linearGradient gradientUnits="userSpaceOnUse" id="g167" x1="1299.3" y1="569.0" x2="1384.3" y2="639.9"><stop offset="0" stop-color="#0038ff"/><stop offset="1" stop-color="#00f4ff"/></linearGradient>
<linearGradient gradientUnits="userSpaceOnUse" id="g168" x1="1274.7" y1="491.3" x2="1354.5" y2="611.0"><stop offset="0" stop-color="#0013ff"/><stop offset="1" stop-color="#0083ff"/></linearGradient>
<linearGradient gradientUnits="userSpaceOnUse" id="g169" x1="1390.1" y1="577.1" x2="1471.8" y2="635.1"><stop offset="0" stop-color="#005eff"/><stop offset="0.3185" stop-color="#00ffff"/><stop offset="0.8222" stop-color="#00ff00"/><stop offset="1" stop-color="#5aff00"/></linearGradient>
<linearGradient gradientUnits="userSpaceOnUse" id="g170" x1="1372.7" y1="484.9" x2="1432.4" y2="633.9"><stop offset="0" stop-color="#0038ff"/><stop offset="1" stop-color="#00f4ff"/></linearGradient>
<linearGradient gradientUnits="userSpaceOnUse" id="g171" x1="1527.5" y1="552.0" x2="1441.7" y2="648.6"><stop offset="0" stop-color="#005eff"/><stop offset="0.3185" stop-color="#00ffff"/><stop offset="0.8222" stop-color="#00ff00"/><stop offset="1" stop-color="#5aff00"/></linearGradient>
<linearGradient gradientUnits="userSpaceOnUse" id="g172" x1="1526.2" y1="483.5" x2="1487.7" y2="647.3"><stop offset="0" stop-color="#0038ff"/><stop offset="0.6235" stop-color="#00ffff"/><stop offset="1" stop-color="#00ff87"/></linearGradient>
<linearGradient gradientUnits="userSpaceOnUse" id="g173" x1="1607.2" y1="573.0" x2="1523.6" y2="637.6"><stop offset="0" stop-color="#0038ff"/><stop offset="0.6235" stop-color="#00ffff"/><stop offset="1" stop-color="#00ff87"/></linearGradient>
<linearGradient gradientUnits="userSpaceOnUse" id="g174" x1="1529.1" y1="509.9" x2="1667.4" y2="579.1"><stop offset="0" stop-color="#0038ff"/><stop offset="1" stop-color="#00a9ff"/></linearGradient>
<linearGradient gradientUnits="userSpaceOnUse" id="g175" x1="1687.5" y1="590.3" x2="1611.7" y2="618.7"><stop offset="0" stop-color="#005eff"/><stop offset="1" stop-color="#00a9ff"/></linearGradient>
<linearGradient gradientUnits="userSpaceOnUse" id="g176" x1="1655.8" y1="561.5" x2="1731.3" y2="517.1"><stop offset="0" stop-color="#005eff"/><stop offset="1" stop-color="#00dbff"/></linearGradient>
<linearGradient gradientUnits="userSpaceOnUse" id="g177" x1="1784.5" y1="669.4" x2="1682.4" y2="506.4"><stop offset="0" stop-color="#0036ff"/><stop offset="1" stop-color="#00dbff"/></linearGradient>
<linearGradient gradientUnits="userSpaceOnUse" id="g178" x1="1736.5" y1="568.7" x2="1817.6" y2="512.1"><stop offset="0" stop-color="#0036ff"/><stop offset="0.3441" stop-color="#00ffff"/><stop offset="0.7814" stop-color="#00ff00"/><stop offset="1" stop-color="#80ff00"/></linearGradient>
<linearGradient gradientUnits="userSpaceOnUse" id="g179" x1="1869.9" y1="663.1" x2="1836.4" y2="496.9"><stop offset="0" stop-color="#0004ff"/><stop offset="0.5" stop-color="#00ffff"/><stop offset="1" stop-color="#00ff04"/></linearGradient>
<linearGradient gradientUnits="userSpaceOnUse" id="g180" x1="1867.1" y1="629.5" x2="1802.4" y2="485.8"><stop offset="0" stop-color="#0036ff"/><stop offset="0.3441" stop-color="#00ffff"/><stop offset="0.7814" stop-color="#00ff00"/><stop offset="1" stop-color="#80ff00"/></linearGradient>
<linearGradient gradientUnits="userSpaceOnUse" id="g181" x1="1944.0" y1="659.7" x2="1944.0" y2="486.9"><stop offset="0" stop-color="#0004ff"/><stop offset="1" stop-color="#00bcff"/></linearGradient>
<linearGradient gradientUnits="userSpaceOnUse" id="g182" x1="1953.5" y1="574.6" x2="1869.4" y2="508.4"><stop offset="0" stop-color="#0004ff"/><stop offset="0.5" stop-color="#00ffff"/><stop offset="1" stop-color="#00ff04"/></linearGradient>
<linearGradient gradientUnits="userSpaceOnUse" id="g183" x1="2030.5" y1="659.7" x2="2030.5" y2="486.9"><stop offset="0" stop-color="#0004ff"/><stop offset="1" stop-color="#0083ff"/></linearGradient>
<linearGradient gradientUnits="userSpaceOnUse" id="g184" x1="2045.1" y1="615.5" x2="1968.2" y2="489.7"><stop offset="0" stop-color="#0004ff"/><stop offset="1" stop-color="#00bcff"/></linearGradient>
<linearGradient gradientUnits="userSpaceOnUse" id="g185" x1="416.9" y1="429.2" x2="330.5" y2="429.2"><stop offset="0" stop-color="#ff9600"/><stop offset="1" stop-color="#ff8b00"/></linearGradient>
<linearGradient gradientUnits="userSpaceOnUse" id="g186" x1="432.8" y1="353.7" x2="358.3" y2="383.5"><stop offset="0" stop-color="#ffc300"/><stop offset="1" stop-color="#ff8b00"/></linearGradient>
<linearGradient gradientUnits="userSpaceOnUse" id="g187" x1="490.1" y1="362.7" x2="410.3" y2="482.4"><stop offset="0" stop-color="#ffc300"/><stop offset="1" stop-color="#ff9600"/></linearGradient>
<linearGradient gradientUnits="userSpaceOnUse" id="g188" x1="519.1" y1="331.5" x2="433.2" y2="408.9"><stop offset="0" stop-color="#ffe800"/><stop offset="1" stop-color="#ffa500"/></linearGradient>
<linearGradient gradientUnits="userSpaceOnUse" id="g189" x1="563.9" y1="334.1" x2="512.0" y2="489.7"><stop offset="0" stop-color="#ffe800"/><stop offset="1" stop-color="#ffa500"/></linearGradient>
<linearGradient gradientUnits="userSpaceOnUse" id="g190" x1="533.2" y1="302.1" x2="604.7" y2="480.9"><stop offset="0" stop-color="#ffe800"/><stop offset="1" stop-color="#ffb000"/></linearGradient>
<linearGradient gradientUnits="userSpaceOnUse" id="g191" x1="660.9" y1="353.8" x2="587.2" y2="485.4"><stop offset="0" stop-color="#ffdf00"/><stop offset="1" stop-color="#ffb000"/></linearGradient>
<linearGradient gradientUnits="userSpaceOnUse" id="g192" x1="686.8" y1="322.4" x2="602.5" y2="427.8"><stop offset="0" stop-color="#fff600"/><stop offset="1" stop-color="#ffbd00"/></linearGradient>
<linearGradient gradientUnits="userSpaceOnUse" id="g193" x1="740.8" y1="339.8" x2="681.2" y2="488.8"><stop offset="0" stop-color="#fff600"/><stop offset="1" stop-color="#ffbd00"/></linearGradient>
<linearGradient gradientUnits="userSpaceOnUse" id="g194" x1="754.7" y1="311.2" x2="701.4" y2="465.7"><stop offset="0" stop-color="#ffff00"/><stop offset="1" stop-color="#ffc900"/></linearGradient>
<linearGradient gradientUnits="userSpaceOnUse" id="g195" x1="839.0" y1="312.4" x2="809.9" y2="494.4"><stop offset="0" stop-color="#fffb00"/><stop offset="1" stop-color="#ffc900"/></linearGradient>
<linearGradient gradientUnits="userSpaceOnUse" id="g196" x1="783.2" y1="311.2" x2="806.6" y2="480.8"><stop offset="0" stop-color="#ffff00"/><stop offset="1" stop-color="#ffc900"/></linearGradient>
<linearGradient gradientUnits="userSpaceOnUse" id="g197" x1="906.8" y1="314.0" x2="906.8" y2="486.9"><stop offset="0" stop-color="#fffb00"/><stop offset="1" stop-color="#ffcc00"/></linearGradient>
<linearGradient gradientUnits="userSpaceOnUse" id="g198" x1="878.0" y1="314.0" x2="878.0" y2="486.9"><stop offset="0" stop-color="#fffb00"/><stop offset="1" stop-color="#ffcc00"/></linearGradient>
<linearGradient gradientUnits="userSpaceOnUse" id="g199" x1="993.2" y1="314.0" x2="993.2" y2="486.9"><stop offset="0" stop-color="#fffb00"/><stop offset="1" stop-color="#ffcc00"/></linearGradient>
<linearGradient gradientUnits="userSpaceOnUse" id="g200" x1="964.4" y1="314.0" x2="964.4" y2="486.9"><stop offset="0" stop-color="#fffb00"/><stop offset="1" stop-color="#ffcc00"/></linearGradient>
<linearGradient gradientUnits="userSpaceOnUse" id="g201" x1="1086.6" y1="339.8" x2="1027.0" y2="488.8"><stop offset="0" stop-color="#fffb00"/><stop offset="1" stop-color="#ffcc00"/></linearGradient>
<linearGradient gradientUnits="userSpaceOnUse" id="g202" x1="1090.7" y1="310.8" x2="1060.3" y2="478.1"><stop offset="0" stop-color="#ffff00"/><stop offset="1" stop-color="#ffd600"/></linearGradient>
<linearGradient gradientUnits="userSpaceOnUse" id="g203" x1="1212.1" y1="452.0" x2="1142.6" y2="417.7"><stop offset="0" stop-color="#0004ff"/><stop offset="0.3325" stop-color="#00ffff"/><stop offset="0.67" stop-color="#00ff00"/><stop offset="1" stop-color="#f9ff00"/></linearGradient>
<linearGradient gradientUnits="userSpaceOnUse" id="g204" x1="1182.5" y1="380.1" x2="1099.0" y2="364.4"><stop offset="0" stop-color="#f0ff00"/><stop offset="1" stop-color="#ffff00"/></linearGradient>
<linearGradient gradientUnits="userSpaceOnUse" id="g205" x1="1221.4" y1="487.9" x2="1228.3" y2="315.3"><stop offset="0" stop-color="#0004ff"/><stop offset="0.3367" stop-color="#00ffff"/><stop offset="0.6784" stop-color="#00ff00"/><stop offset="1" stop-color="#f0ff00"/></linearGradient>
<linearGradient gradientUnits="userSpaceOnUse" id="g206" x1="1252.5" y1="486.9" x2="1252.5" y2="314.0"><stop offset="0" stop-color="#0013ff"/><stop offset="0.3231" stop-color="#00ffff"/><stop offset="0.6718" stop-color="#00ff00"/><stop offset="1" stop-color="#f0ff00"/></linearGradient>
<linearGradient gradientUnits="userSpaceOnUse" id="g207" x1="1304.0" y1="489.2" x2="1321.6" y2="318.1"><stop offset="0" stop-color="#0013ff"/><stop offset="0.3231" stop-color="#00ffff"/><stop offset="0.6718" stop-color="#00ff00"/><stop offset="1" stop-color="#f0ff00"/></linearGradient>
<linearGradient gradientUnits="userSpaceOnUse" id="g208" x1="1340.2" y1="487.2" x2="1338.3" y2="313.4"><stop offset="0" stop-color="#0038ff"/><stop offset="0.2865" stop-color="#00ffff"/><stop offset="0.6541" stop-color="#00ff00"/><stop offset="1" stop-color="#f0ff00"/></linearGradient>
<linearGradient gradientUnits="userSpaceOnUse" id="g209" x1="1390.1" y1="489.3" x2="1408.6" y2="318.4"><stop offset="0" stop-color="#0038ff"/><stop offset="0.288" stop-color="#00ffff"/><stop offset="0.6576" stop-color="#00ff00"/><stop offset="1" stop-color="#ecff00"/></linearGradient>
<linearGradient gradientUnits="userSpaceOnUse" id="g210" x1="1427.4" y1="487.3" x2="1424.4" y2="313.0"><stop offset="0" stop-color="#005eff"/><stop offset="0.2471" stop-color="#00ffff"/><stop offset="0.6379" stop-color="#00ff00"/><stop offset="1" stop-color="#ecff00"/></linearGradient>
<linearGradient gradientUnits="userSpaceOnUse" id="g211" x1="1585.3" y1="377.8" x2="1446.1" y2="475.3"><stop offset="0" stop-color="#0004ff"/><stop offset="1" stop-color="#005eff"/></linearGradient>
<linearGradient gradientUnits="userSpaceOnUse" id="g212" x1="1510.1" y1="383.5" x2="1437.7" y2="351.7"><stop offset="0" stop-color="#0004ff"/><stop offset="0.341" stop-color="#00ffff"/><stop offset="0.687" stop-color="#00ff00"/><stop offset="1" stop-color="#e7ff00"/></linearGradient>
<linearGradient gradientUnits="userSpaceOnUse" id="g213" x1="1557.7" y1="394.1" x2="1643.3" y2="468.2"><stop offset="0" stop-color="#000fff"/><stop offset="1" stop-color="#0070ff"/></linearGradient>
<linearGradient gradientUnits="userSpaceOnUse" id="g214" x1="1544.1" y1="312.5" x2="1606.7" y2="458.5"><stop offset="0" stop-color="#0004ff"/><stop offset="1" stop-color="#0038ff"/></linearGradient>
<linearGradient gradientUnits="userSpaceOnUse" id="g215" x1="1643.5" y1="392.3" x2="1729.4" y2="469.2"><stop offset="0" stop-color="#001cff"/><stop offset="1" stop-color="#00dbff"/></linearGradient>
<linearGradient gradientUnits="userSpaceOnUse" id="g216" x1="1639.5" y1="310.6" x2="1682.9" y2="471.8"><stop offset="0" stop-color="#000fff"/><stop offset="1" stop-color="#0070ff"/></linearGradient>
<linearGradient gradientUnits="userSpaceOnUse" id="g217" x1="1736.1" y1="404.5" x2="1817.5" y2="462.0"><stop offset="0" stop-color="#002fff"/><stop offset="0.3524" stop-color="#00ffff"/><stop offset="0.7841" stop-color="#00ff00"/><stop offset="1" stop-color="#80ff00"/></linearGradient>
<linearGradient gradientUnits="userSpaceOnUse" id="g218" x1="1730.4" y1="310.7" x2="1763.0" y2="477.2"><stop offset="0" stop-color="#001cff"/><stop offset="1" stop-color="#00dbff"/></linearGradient>
<linearGradient gradientUnits="userSpaceOnUse" id="g219" x1="1866.8" y1="343.7" x2="1802.7" y2="488.0"><stop offset="0" stop-color="#002fff"/><stop offset="0.3524" stop-color="#00ffff"/><stop offset="0.7841" stop-color="#00ff00"/><stop offset="1" stop-color="#80ff00"/></linearGradient>
<linearGradient gradientUnits="userSpaceOnUse" id="g220" x1="1855.1" y1="311.7" x2="1862.5" y2="487.9"><stop offset="0" stop-color="#002fff"/><stop offset="0.4531" stop-color="#00ffff"/><stop offset="1" stop-color="#00ff04"/></linearGradient>
<linearGradient gradientUnits="userSpaceOnUse" id="g221" x1="1950.3" y1="404.5" x2="1868.9" y2="462.0"><stop offset="0" stop-color="#0038ff"/><stop offset="0.4417" stop-color="#00ffff"/><stop offset="1" stop-color="#00ff04"/></linearGradient>
<linearGradient gradientUnits="userSpaceOnUse" id="g222" x1="1921.0" y1="302.5" x2="1981.5" y2="484.0"><stop offset="0" stop-color="#0038ff"/><stop offset="1" stop-color="#00bcff"/></linearGradient>
<linearGradient gradientUnits="userSpaceOnUse" id="g223" x1="2059.3" y1="429.2" x2="1972.9" y2="429.2"><stop offset="0" stop-color="#0083ff"/><stop offset="1" stop-color="#00bcff"/></linearGradient>
<linearGradient gradientUnits="userSpaceOnUse" id="g224" x1="1958.5" y1="328.4" x2="2044.9" y2="414.8"><stop offset="0" stop-color="#004bff"/><stop offset="1" stop-color="#00bcff"/></linearGradient>
<linearGradient gradientUnits="userSpaceOnUse" id="g225" x1="407.3" y1="139.5" x2="377.4" y2="321.7"><stop offset="0" stop-color="#008dff"/><stop offset="0.1544" stop-color="#00ffff"/><stop offset="0.4987" stop-color="#00ff00"/><stop offset="0.843" stop-color="#ffff00"/><stop offset="1" stop-color="#ff8b00"/></linearGradient>
<linearGradient gradientUnits="userSpaceOnUse" id="g226" x1="349.4" y1="138.0" x2="376.8" y2="306.4"><stop offset="0" stop-color="#004bff"/><stop offset="0.2233" stop-color="#00ffff"/><stop offset="0.5395" stop-color="#00ff00"/><stop offset="0.8558" stop-color="#ffff00"/><stop offset="1" stop-color="#ff8b00"/></linearGradient>
<linearGradient gradientUnits="userSpaceOnUse" id="g227" x1="498.4" y1="140.1" x2="460.9" y2="323.0"><stop offset="0" stop-color="#00ff58"/><stop offset="0.2186" stop-color="#00ff00"/><stop offset="0.8512" stop-color="#ffff00"/><stop offset="1" stop-color="#ffc300"/></linearGradient>
<linearGradient gradientUnits="userSpaceOnUse" id="g228" x1="405.9" y1="150.2" x2="490.7" y2="253.4"><stop offset="0" stop-color="#008dff"/><stop offset="0.1671" stop-color="#00ffff"/><stop offset="0.5397" stop-color="#00ff00"/><stop offset="0.9123" stop-color="#ffff00"/><stop offset="1" stop-color="#ffc300"/></linearGradient>
<linearGradient gradientUnits="userSpaceOnUse" id="g229" x1="680.8" y1="259.1" x2="595.0" y2="252.0"><stop offset="0" stop-color="#fff600"/><stop offset="1" stop-color="#ffdf00"/></linearGradient>
<linearGradient gradientUnits="userSpaceOnUse" id="g230" x1="647.8" y1="210.7" x2="573.8" y2="180.4"><stop offset="0" stop-color="#fff200"/><stop offset="1" stop-color="#ff8b00"/></linearGradient>
<linearGradient gradientUnits="userSpaceOnUse" id="g231" x1="771.6" y1="269.7" x2="655.2" y2="246.4"><stop offset="0" stop-color="#ffff00"/><stop offset="1" stop-color="#fff200"/></linearGradient>
<linearGradient gradientUnits="userSpaceOnUse" id="g232" x1="775.1" y1="187.7" x2="694.4" y2="209.2"><stop offset="0" stop-color="#f0ff00"/><stop offset="0.5333" stop-color="#ffff00"/><stop offset="1" stop-color="#fff200"/></linearGradient>
<linearGradient gradientUnits="userSpaceOnUse" id="g233" x1="739.6" y1="152.6" x2="826.1" y2="325.5"><stop offset="0" stop-color="#f0ff00"/><stop offset="0.8" stop-color="#ffff00"/><stop offset="1" stop-color="#fffb00"/></linearGradient>
<linearGradient gradientUnits="userSpaceOnUse" id="g234" x1="863.5" y1="155.5" x2="777.1" y2="241.9"><stop offset="0" stop-color="#ddff00"/><stop offset="0.9" stop-color="#ffff00"/><stop offset="1" stop-color="#fffb00"/></linearGradient>
<linearGradient gradientUnits="userSpaceOnUse" id="g235" x1="878.0" y1="141.1" x2="878.0" y2="314.0"><stop offset="0" stop-color="#ddff00"/><stop offset="0.9" stop-color="#ffff00"/><stop offset="1" stop-color="#fffb00"/></linearGradient>
<linearGradient gradientUnits="userSpaceOnUse" id="g236" x1="942.2" y1="145.5" x2="862.4" y2="265.2"><stop offset="0" stop-color="#cbff00"/><stop offset="0.9333" stop-color="#ffff00"/><stop offset="1" stop-color="#fffb00"/></linearGradient>
<linearGradient gradientUnits="userSpaceOnUse" id="g237" x1="964.4" y1="141.1" x2="964.4" y2="314.0"><stop offset="0" stop-color="#cbff00"/><stop offset="0.9333" stop-color="#ffff00"/><stop offset="1" stop-color="#fffb00"/></linearGradient>
<linearGradient gradientUnits="userSpaceOnUse" id="g238" x1="1010.6" y1="137.8" x2="964.9" y2="297.7"><stop offset="0" stop-color="#c1ff00"/><stop offset="0.9429" stop-color="#ffff00"/><stop offset="1" stop-color="#fffb00"/></linearGradient>
<linearGradient gradientUnits="userSpaceOnUse" id="g239" x1="1063.5" y1="145.8" x2="1044.0" y2="316.5"><stop offset="0" stop-color="#c1ff00"/><stop offset="0.9429" stop-color="#ffff00"/><stop offset="1" stop-color="#fffb00"/></linearGradient>
<linearGradient gradientUnits="userSpaceOnUse" id="g240" x1="1095.7" y1="137.7" x2="1053.1" y2="299.4"><stop offset="0" stop-color="#b8ff00"/><stop offset="1" stop-color="#ffff00"/></linearGradient>
<linearGradient gradientUnits="userSpaceOnUse" id="g241" x1="1174.2" y1="168.8" x2="1112.3" y2="315.6"><stop offset="0" stop-color="#b8ff00"/><stop offset="1" stop-color="#ffff00"/></linearGradient>
<linearGradient gradientUnits="userSpaceOnUse" id="g242" x1="1166.1" y1="141.1" x2="1166.1" y2="314.0"><stop offset="0" stop-color="#b8ff00"/><stop offset="1" stop-color="#f0ff00"/></linearGradient>
<linearGradient gradientUnits="userSpaceOnUse" id="g243" x1="1252.5" y1="141.1" x2="1252.5" y2="314.0"><stop offset="0" stop-color="#b8ff00"/><stop offset="1" stop-color="#f0ff00"/></linearGradient>
<linearGradient gradientUnits="userSpaceOnUse" id="g244" x1="1223.7" y1="141.1" x2="1223.7" y2="314.0"><stop offset="0" stop-color="#b8ff00"/><stop offset="1" stop-color="#f0ff00"/></linearGradient>
<linearGradient gradientUnits="userSpaceOnUse" id="g245" x1="1324.7" y1="146.9" x2="1302.1" y2="316.7"><stop offset="0" stop-color="#b8ff00"/><stop offset="1" stop-color="#f0ff00"/></linearGradient>
<linearGradient gradientUnits="userSpaceOnUse" id="g246" x1="1357.4" y1="137.9" x2="1309.4" y2="296.3"><stop offset="0" stop-color="#aeff00"/><stop offset="1" stop-color="#ecff00"/></linearGradient>
<linearGradient gradientUnits="userSpaceOnUse" id="g247" x1="1416.0" y1="149.9" x2="1385.5" y2="317.2"><stop offset="0" stop-color="#aeff00"/><stop offset="1" stop-color="#ecff00"/></linearGradient>
<linearGradient gradientUnits="userSpaceOnUse" id="g248" x1="1442.8" y1="137.8" x2="1397.1" y2="297.7"><stop offset="0" stop-color="#a5ff00"/><stop offset="1" stop-color="#e7ff00"/></linearGradient>
<linearGradient gradientUnits="userSpaceOnUse" id="g249" x1="1557.9" y1="279.0" x2="1488.3" y2="244.8"><stop offset="0" stop-color="#0004ff"/><stop offset="0.3796" stop-color="#00ffff"/><stop offset="0.7649" stop-color="#00ff00"/><stop offset="1" stop-color="#9cff00"/></linearGradient>
<linearGradient gradientUnits="userSpaceOnUse" id="g250" x1="1523.7" y1="208.9" x2="1442.4" y2="188.6"><stop offset="0" stop-color="#92ff00"/><stop offset="1" stop-color="#a5ff00"/></linearGradient>
<linearGradient gradientUnits="userSpaceOnUse" id="g251" x1="1567.5" y1="314.9" x2="1573.4" y2="142.2"><stop offset="0" stop-color="#0004ff"/><stop offset="0.3851" stop-color="#00ffff"/><stop offset="0.7759" stop-color="#00ff00"/><stop offset="1" stop-color="#92ff00"/></linearGradient>
<linearGradient gradientUnits="userSpaceOnUse" id="g252" x1="1598.3" y1="314.0" x2="1598.3" y2="141.1"><stop offset="0" stop-color="#000fff"/><stop offset="0.3743" stop-color="#00ffff"/><stop offset="0.7719" stop-color="#00ff00"/><stop offset="1" stop-color="#92ff00"/></linearGradient>
<linearGradient gradientUnits="userSpaceOnUse" id="g253" x1="1653.5" y1="315.1" x2="1660.6" y2="142.5"><stop offset="0" stop-color="#000fff"/><stop offset="0.3743" stop-color="#00ffff"/><stop offset="0.7719" stop-color="#00ff00"/><stop offset="1" stop-color="#92ff00"/></linearGradient>
<linearGradient gradientUnits="userSpaceOnUse" id="g254" x1="1684.7" y1="314.0" x2="1684.7" y2="141.1"><stop offset="0" stop-color="#001cff"/><stop offset="0.3612" stop-color="#00ffff"/><stop offset="0.7672" stop-color="#00ff00"/><stop offset="1" stop-color="#92ff00"/></linearGradient>
<linearGradient gradientUnits="userSpaceOnUse" id="g255" x1="1738.8" y1="315.5" x2="1749.1" y2="143.2"><stop offset="0" stop-color="#001cff"/><stop offset="0.3612" stop-color="#00ffff"/><stop offset="0.7672" stop-color="#00ff00"/><stop offset="1" stop-color="#92ff00"/></linearGradient>
<linearGradient gradientUnits="userSpaceOnUse" id="g256" x1="1771.2" y1="314.0" x2="1771.2" y2="141.1"><stop offset="0" stop-color="#002fff"/><stop offset="0.3415" stop-color="#00ffff"/><stop offset="0.76" stop-color="#00ff00"/><stop offset="1" stop-color="#92ff00"/></linearGradient>
<linearGradient gradientUnits="userSpaceOnUse" id="g257" x1="1827.0" y1="314.8" x2="1832.3" y2="142.1"><stop offset="0" stop-color="#002fff"/><stop offset="0.3415" stop-color="#00ffff"/><stop offset="0.76" stop-color="#00ff00"/><stop offset="1" stop-color="#92ff00"/></linearGradient>
<linearGradient gradientUnits="userSpaceOnUse" id="g258" x1="1857.6" y1="314.0" x2="1857.6" y2="141.1"><stop offset="0" stop-color="#0038ff"/><stop offset="0.3312" stop-color="#00ffff"/><stop offset="0.7562" stop-color="#00ff00"/><stop offset="1" stop-color="#92ff00"/></linearGradient>
<linearGradient gradientUnits="userSpaceOnUse" id="g259" x1="1911.5" y1="315.5" x2="1922.3" y2="143.3"><stop offset="0" stop-color="#0038ff"/><stop offset="0.3312" stop-color="#00ffff"/><stop offset="0.7562" stop-color="#00ff00"/><stop offset="1" stop-color="#92ff00"/></linearGradient>
<linearGradient gradientUnits="userSpaceOnUse" id="g260" x1="1944.0" y1="314.0" x2="1944.0" y2="141.1"><stop offset="0" stop-color="#004bff"/><stop offset="0.3097" stop-color="#00ffff"/><stop offset="0.7484" stop-color="#00ff00"/><stop offset="1" stop-color="#92ff00"/></linearGradient>
<linearGradient gradientUnits="userSpaceOnUse" id="g261" x1="1995.9" y1="244.8" x2="2073.7" y2="270.8"><stop offset="0" stop-color="#004bff"/><stop offset="1" stop-color="#0083ff"/></linearGradient>
<linearGradient gradientUnits="userSpaceOnUse" id="g262" x1="2025.9" y1="211.3" x2="1955.4" y2="174.8"><stop offset="0" stop-color="#004bff"/><stop offset="0.3097" stop-color="#00ffff"/><stop offset="0.7484" stop-color="#00ff00"/><stop offset="1" stop-color="#92ff00"/></linearGradient>
<linearGradient gradientUnits="userSpaceOnUse" id="g263" x1="486.6" y1="183.7" x2="545.6" y2="207.0"><stop offset="0" stop-color="#00ff58"/><stop offset="0.241" stop-color="#00ff00"/><stop offset="0.9385" stop-color="#ffff00"/><stop offset="1" stop-color="#ffe800"/></linearGradient>
<linearGradient gradientUnits="userSpaceOnUse" id="g264" x1="505.3" y1="180.6" x2="590.1" y2="313.8"><stop offset="0" stop-color="#ffff00"/><stop offset="1" stop-color="#ffdf00"/></linearGradient>
<linearGradient gradientUnits="userSpaceOnUse" id="g265" x1="572.2" y1="199.6" x2="594.5" y2="197.7"><stop offset="0" stop-color="#ffff00"/><stop offset="1" stop-color="#ffa700"/></linearGradient>
</defs>
<rect width="2471" height="2161" fill="#fff"/>
<g filter="url(#edge)">
<g clip-path="url(#pc)">
<rect x="330.5" y="141.1" width="1728.8" height="1728.8" fill="#0000ff"/>
<g class="map" filter="url(#soft)">
<polygon points="330.5,1869.9 416.9,1869.9 416.9,1697.0" fill="url(#g1)" stroke="url(#g1)"/>
<polygon points="330.5,1869.9 416.9,1697.0 330.5,1697.0" fill="url(#g2)" stroke="url(#g2)"/>
<polygon points="416.9,1869.9 503.4,1869.9 503.4,1697.0" fill="#0000ff" stroke="#0000ff"/>
<polygon points="416.9,1869.9 503.4,1697.0 416.9,1697.0" fill="url(#g3)" stroke="url(#g3)"/>
<polygon points="503.4,1869.9 589.8,1869.9 589.8,1697.0" fill="#0000ff" stroke="#0000ff"/>
<polygon points="503.4,1869.9 589.8,1697.0 503.4,1697.0" fill="#0000ff" stroke="#0000ff"/>
<polygon points="589.8,1869.9 676.3,1869.9 676.3,1697.0" fill="#0000ff" stroke="#0000ff"/>
<polygon points="589.8,1869.9 676.3,1697.0 589.8,1697.0" fill="#0000ff" stroke="#0000ff"/>
<polygon points="676.3,1869.9 762.7,1869.9 762.7,1697.0" fill="#0000ff" stroke="#0000ff"/>
<polygon points="676.3,1869.9 762.7,1697.0 676.3,1697.0" fill="#0000ff" stroke="#0000ff"/>
<polygon points="762.7,1869.9 849.1,1869.9 849.1,1697.0" fill="#0000ff" stroke="#0000ff"/>
<polygon points="762.7,1869.9 849.1,1697.0 762.7,1697.0" fill="#0000ff" stroke="#0000ff"/>
<polygon points="849.1,1869.9 935.6,1869.9 935.6,1697.0" fill="#0000ff" stroke="#0000ff"/>
<polygon points="849.1,1869.9 935.6,1697.0 849.1,1697.0" fill="#0000ff" stroke="#0000ff"/>
<polygon points="935.6,1869.9 1022.0,1869.9 1022.0,1697.0" fill="#0000ff" stroke="#0000ff"/>
<polygon points="935.6,1869.9 1022.0,1697.0 935.6,1697.0" fill="#0000ff" stroke="#0000ff"/>
<polygon points="1022.0,1869.9 1108.5,1869.9 1108.5,1697.0" fill="#0000ff" stroke="#0000ff"/>
<polygon points="1022.0,1869.9 1108.5,1697.0 1022.0,1697.0" fill="#0000ff" stroke="#0000ff"/>
<polygon points="1108.5,1869.9 1194.9,1869.9 1194.9,1697.0" fill="#0000ff" stroke="#0000ff"/>
<polygon points="1108.5,1869.9 1194.9,1697.0 1108.5,1697.0" fill="#0000ff" stroke="#0000ff"/>
<polygon points="1194.9,1869.9 1281.3,1869.9 1281.3,1697.0" fill="#0000ff" stroke="#0000ff"/>
<polygon points="1194.9,1869.9 1281.3,1697.0 1194.9,1697.0" fill="#0000ff" stroke="#0000ff"/>
<polygon points="1281.3,1869.9 1367.8,1869.9 1367.8,1697.0" fill="#0000ff" stroke="#0000ff"/>
<polygon points="1281.3,1869.9 1367.8,1697.0 1281.3,1697.0" fill="#0000ff" stroke="#0000ff"/>
<polygon points="1367.8,1869.9 1454.2,1869.9 1454.2,1697.0" fill="#0000ff" stroke="#0000ff"/>
<polygon points="1367.8,1869.9 1454.2,1697.0 1367.8,1697.0" fill="#0000ff" stroke="#0000ff"/>
<polygon points="1454.2,1869.9 1540.7,1869.9 1540.7,1697.0" fill="#0000ff" stroke="#0000ff"/>
<polygon points="1454.2,1869.9 1540.7,1697.0 1454.2,1697.0" fill="#0000ff" stroke="#0000ff"/>
<polygon points="1540.7,1869.9 1627.1,1869.9 1627.1,1697.0" fill="#0000ff" stroke="#0000ff"/>
<polygon points="1540.7,1869.9 1627.1,1697.0 1540.7,1697.0" fill="#0000ff" stroke="#0000ff"/>
<polygon points="1627.1,1869.9 1713.5,1869.9 1713.5,1697.0" fill="#0000ff" stroke="#0000ff"/>
<polygon points="1627.1,1869.9 1713.5,1697.0 1627.1,1697.0" fill="#0000ff" stroke="#0000ff"/>
<polygon points="1713.5,1869.9 1800.0,1869.9 1800.0,1697.0" fill="#0000ff" stroke="#0000ff"/>
<polygon points="1713.5,1869.9 1800.0,1697.0 1713.5,1697.0" fill="#0000ff" stroke="#0000ff"/>
<polygon points="1800.0,1869.9 1886.4,1869.9 1886.4,1697.0" fill="#0000ff" stroke="#0000ff"/>
<polygon points="1800.0,1869.9 1886.4,1697.0 1800.0,1697.0" fill="#0000ff" stroke="#0000ff"/>
<polygon points="1886.4,1869.9 1972.9,1869.9 1972.9,1697.0" fill="#0000ff" stroke="#0000ff"/>
<polygon points="1886.4,1869.9 1972.9,1697.0 1886.4,1697.0" fill="#0000ff" stroke="#0000ff"/>
<polygon points="1972.9,1869.9 2059.3,1869.9 2059.3,1697.0" fill="#0000ff" stroke="#0000ff"/>
<polygon points="1972.9,1869.9 2059.3,1697.0 1972.9,1697.0" fill="#0000ff" stroke="#0000ff"/>
<polygon points="330.5,1697.0 416.9,1697.0 330.5,1524.1" fill="url(#g4)" stroke="url(#g4)"/>
<polygon points="416.9,1697.0 416.9,1524.1 330.5,1524.1" fill="url(#g5)" stroke="url(#g5)"/>
<polygon points="416.9,1697.0 503.4,1697.0 503.4,1524.1" fill="url(#g6)" stroke="url(#g6)"/>
<polygon points="416.9,1697.0 503.4,1524.1 416.9,1524.1" fill="url(#g7)" stroke="url(#g7)"/>
<polygon points="503.4,1697.0 589.8,1697.0 589.8,1524.1" fill="url(#g8)" stroke="url(#g8)"/>
<polygon points="503.4,1697.0 589.8,1524.1 503.4,1524.1" fill="url(#g9)" stroke="url(#g9)"/>
<polygon points="589.8,1697.0 676.3,1697.0 676.3,1524.1" fill="#0000ff" stroke="#0000ff"/>
<polygon points="589.8,1697.0 676.3,1524.1 589.8,1524.1" fill="url(#g10)" stroke="url(#g10)"/>
<polygon points="676.3,1697.0 762.7,1697.0 762.7,1524.1" fill="#0000ff" stroke="#0000ff"/>
<polygon points="676.3,1697.0 762.7,1524.1 676.3,1524.1" fill="#0000ff" stroke="#0000ff"/>
<polygon points="762.7,1697.0 849.1,1697.0 849.1,1524.1" fill="#0000ff" stroke="#0000ff"/>
<polygon points="762.7,1697.0 849.1,1524.1 762.7,1524.1" fill="#0000ff" stroke="#0000ff"/>
<polygon points="849.1,1697.0 935.6,1697.0 935.6,1524.1" fill="#0000ff" stroke="#0000ff"/>
<polygon points="849.1,1697.0 935.6,1524.1 849.1,1524.1" fill="#0000ff" stroke="#0000ff"/>
<polygon points="935.6,1697.0 1022.0,1697.0 1022.0,1524.1" fill="#0000ff" stroke="#0000ff"/>
<polygon points="935.6,1697.0 1022.0,1524.1 935.6,1524.1" fill="#0000ff" stroke="#0000ff"/>
<polygon points="1022.0,1697.0 1108.5,1697.0 1108.5,1524.1" fill="#0000ff" stroke="#0000ff"/>
<polygon points="1022.0,1697.0 1108.5,1524.1 1022.0,1524.1" fill="#0000ff" stroke="#0000ff"/>
<polygon points="1108.5,1697.0 1194.9,1697.0 1194.9,1524.1" fill="#0000ff" stroke="#0000ff"/>
<polygon points="1108.5,1697.0 1194.9,1524.1 1108.5,1524.1" fill="#0000ff" stroke="#0000ff"/>
<polygon points="1194.9,1697.0 1281.3,1697.0 1281.3,1524.1" fill="#0000ff" stroke="#0000ff"/>
<polygon points="1194.9,1697.0 1281.3,1524.1 1194.9,1524.1" fill="#0000ff" stroke="#0000ff"/>
<polygon points="1281.3,1697.0 1367.8,1697.0 1367.8,1524.1" fill="#0000ff" stroke="#0000ff"/>
<polygon points="1281.3,1697.0 1367.8,1524.1 1281.3,1524.1" fill="#0000ff" stroke="#0000ff"/>
<polygon points="1367.8,1697.0 1454.2,1697.0 1454.2,1524.1" fill="#0000ff" stroke="#0000ff"/>
<polygon points="1367.8,1697.0 1454.2,1524.1 1367.8,1524.1" fill="#0000ff" stroke="#0000ff"/>
<polygon points="1454.2,1697.0 1540.7,1697.0 1540.7,1524.1" fill="#0000ff" stroke="#0000ff"/>
<polygon points="1454.2,1697.0 1540.7,1524.1 1454.2,1524.1" fill="#0000ff" stroke="#0000ff"/>
<polygon points="1540.7,1697.0 1627.1,1697.0 1627.1,1524.1" fill="#0000ff" stroke="#0000ff"/>
<polygon points="1540.7,1697.0 1627.1,1524.1 1540.7,1524.1" fill="#0000ff" stroke="#0000ff"/>
<polygon points="1627.1,1697.0 1713.5,1697.0 1713.5,1524.1" fill="#0000ff" stroke="#0000ff"/>
<polygon points="1627.1,1697.0 1713.5,1524.1 1627.1,1524.1" fill="#0000ff" stroke="#0000ff"/>
<polygon points="1713.5,1697.0 1800.0,1697.0 1800.0,1524.1" fill="#0000ff" stroke="#0000ff"/>
<polygon points="1713.5,1697.0 1800.0,1524.1 1713.5,1524.1" fill="#0000ff" stroke="#0000ff"/>
<polygon points="1800.0,1697.0 1886.4,1697.0 1886.4,1524.1" fill="#0000ff" stroke="#0000ff"/>
<polygon points="1800.0,1697.0 1886.4,1524.1 1800.0,1524.1" fill="#0000ff" stroke="#0000ff"/>
<polygon points="1886.4,1697.0 1972.9,1697.0 1972.9,1524.1" fill="#0000ff" stroke="#0000ff"/>
<polygon points="1886.4,1697.0 1972.9,1524.1 1886.4,1524.1" fill="#0000ff" stroke="#0000ff"/>
<polygon points="1972.9,1697.0 2059.3,1697.0 2059.3,1524.1" fill="#0000ff" stroke="#0000ff"/>
<polygon points="1972.9,1697.0 2059.3,1524.1 1972.9,1524.1" fill="#0000ff" stroke="#0000ff"/>
<polygon points="330.5,1524.1 416.9,1524.1 330.5,1351.3" fill="url(#g11)" stroke="url(#g11)"/>
<polygon points="416.9,1524.1 416.9,1351.3 330.5,1351.3" fill="url(#g12)" stroke="url(#g12)"/>
<polygon points="416.9,1524.1 503.4,1524.1 503.4,1351.3" fill="url(#g13)" stroke="url(#g13)"/>
<polygon points="416.9,1524.1 503.4,1351.3 416.9,1351.3" fill="url(#g14)" stroke="url(#g14)"/>
<polygon points="503.4,1524.1 589.8,1524.1 589.8,1351.3" fill="url(#g15)" stroke="url(#g15)"/>
<polygon points="503.4,1524.1 589.8,1351.3 503.4,1351.3" fill="url(#g16)" stroke="url(#g16)"/>
<polygon points="589.8,1524.1 676.3,1524.1 676.3,1351.3" fill="url(#g17)" stroke="url(#g17)"/>
<polygon points="589.8,1524.1 676.3,1351.3 589.8,1351.3" fill="url(#g18)" stroke="url(#g18)"/>
<polygon points="676.3,1524.1 762.7,1524.1 762.7,1351.3" fill="url(#g19)" stroke="url(#g19)"/>
<polygon points="676.3,1524.1 762.7,1351.3 676.3,1351.3" fill="url(#g20)" stroke="url(#g20)"/>
<polygon points="762.7,1524.1 849.1,1524.1 849.1,1351.3" fill="url(#g21)" stroke="url(#g21)"/>
<polygon points="762.7,1524.1 849.1,1351.3 762.7,1351.3" fill="url(#g22)" stroke="url(#g22)"/>
<polygon points="849.1,1524.1 935.6,1524.1 935.6,1351.3" fill="#0000ff" stroke="#0000ff"/>
<polygon points="849.1,1524.1 935.6,1351.3 849.1,1351.3" fill="url(#g23)" stroke="url(#g23)"/>
<polygon points="935.6,1524.1 1022.0,1524.1 1022.0,1351.3" fill="#0000ff" stroke="#0000ff"/>
<polygon points="935.6,1524.1 1022.0,1351.3 935.6,1351.3" fill="#0000ff" stroke="#0000ff"/>
<polygon points="1022.0,1524.1 1108.5,1524.1 1108.5,1351.3" fill="#0000ff" stroke="#0000ff"/>
<polygon points="1022.0,1524.1 1108.5,1351.3 1022.0,1351.3" fill="#0000ff" stroke="#0000ff"/>
<polygon points="1108.5,1524.1 1194.9,1524.1 1194.9,1351.3" fill="#0000ff" stroke="#0000ff"/>
<polygon points="1108.5,1524.1 1194.9,1351.3 1108.5,1351.3" fill="#0000ff" stroke="#0000ff"/>
<polygon points="1194.9,1524.1 1281.3,1524.1 1281.3,1351.3" fill="#0000ff" stroke="#0000ff"/>
<polygon points="1194.9,1524.1 1281.3,1351.3 1194.9,1351.3" fill="#0000ff" stroke="#0000ff"/>
<polygon points="1281.3,1524.1 1367.8,1524.1 1367.8,1351.3" fill="#0000ff" stroke="#0000ff"/>
<polygon points="1281.3,1524.1 1367.8,1351.3 1281.3,1351.3" fill="#0000ff" stroke="#0000ff"/>
<polygon points="1367.8,1524.1 1454.2,1524.1 1454.2,1351.3" fill="#0000ff" stroke="#0000ff"/>
<polygon points="1367.8,1524.1 1454.2,1351.3 1367.8,1351.3" fill="#0000ff" stroke="#0000ff"/>
<polygon points="1454.2,1524.1 1540.7,1524.1 1540.7,1351.3" fill="#0000ff" stroke="#0000ff"/>
<polygon points="1454.2,1524.1 1540.7,1351.3 1454.2,1351.3" fill="#0000ff" stroke="#0000ff"/>
<polygon points="1540.7,1524.1 1627.1,1524.1 1627.1,1351.3" fill="#0000ff" stroke="#0000ff"/>
<polygon points="1540.7,1524.1 1627.1,1351.3 1540.7,1351.3" fill="#0000ff" stroke="#0000ff"/>
<polygon points="1627.1,1524.1 1713.5,1524.1 1713.5,1351.3" fill="#0000ff" stroke="#0000ff"/>
<polygon points="1627.1,1524.1 1713.5,1351.3 1627.1,1351.3" fill="#0000ff" stroke="#0000ff"/>
<polygon points="1713.5,1524.1 1800.0,1524.1 1800.0,1351.3" fill="#0000ff" stroke="#0000ff"/>
<polygon points="1713.5,1524.1 1800.0,1351.3 1713.5,1351.3" fill="#0000ff" stroke="#0000ff"/>
<polygon points="1800.0,1524.1 1886.4,1524.1 1886.4,1351.3" fill="#0000ff" stroke="#0000ff"/>
<polygon points="1800.0,1524.1 1886.4,1351.3 1800.0,1351.3" fill="#0000ff" stroke="#0000ff"/>
<polygon points="1886.4,1524.1 1972.9,1524.1 1972.9,1351.3" fill="#0000ff" stroke="#0000ff"/>
<polygon points="1886.4,1524.1 1972.9,1351.3 1886.4,1351.3" fill="#0000ff" stroke="#0000ff"/>
<polygon points="1972.9,1524.1 2059.3,1524.1 2059.3,1351.3" fill="#0000ff" stroke="#0000ff"/>
<polygon points="1972.9,1524.1 2059.3,1351.3 1972.9,1351.3" fill="#0000ff" stroke="#0000ff"/>
<polygon points="330.5,1351.3 416.9,1351.3 416.9,1178.4" fill="url(#g24)" stroke="url(#g24)"/>
<polygon points="330.5,1351.3 416.9,1178.4 330.5,1178.4" fill="url(#g25)" stroke="url(#g25)"/>
<polygon points="416.9,1351.3 503.4,1351.3 416.9,1178.4" fill="url(#g26)" stroke="url(#g26)"/>
<polygon points="503.4,1351.3 503.4,1178.4 416.9,1178.4" fill="url(#g27)" stroke="url(#g27)"/>
<polygon points="503.4,1351.3 589.8,1351.3 503.4,1178.4" fill="url(#g28)" stroke="url(#g28)"/>
<polygon points="589.8,1351.3 589.8,1178.4 503.4,1178.4" fill="url(#g29)" stroke="url(#g29)"/>
<polygon points="589.8,1351.3 676.3,1351.3 676.3,1178.4" fill="url(#g30)" stroke="url(#g30)"/>
<polygon points="589.8,1351.3 676.3,1178.4 589.8,1178.4" fill="url(#g31)" stroke="url(#g31)"/>
<polygon points="676.3,1351.3 762.7,1351.3 762.7,1178.4" fill="url(#g32)" stroke="url(#g32)"/>
<polygon points="676.3,1351.3 762.7,1178.4 676.3,1178.4" fill="url(#g33)" stroke="url(#g33)"/>
<polygon points="762.7,1351.3 849.1,1351.3 849.1,1178.4" fill="url(#g34)" stroke="url(#g34)"/>
<polygon points="762.7,1351.3 849.1,1178.4 762.7,1178.4" fill="url(#g35)" stroke="url(#g35)"/>
<polygon points="849.1,1351.3 935.6,1351.3 935.6,1178.4" fill="url(#g36)" stroke="url(#g36)"/>
<polygon points="849.1,1351.3 935.6,1178.4 849.1,1178.4" fill="url(#g37)" stroke="url(#g37)"/>
<polygon points="935.6,1351.3 1022.0,1351.3 1022.0,1178.4" fill="url(#g38)" stroke="url(#g38)"/>
<polygon points="935.6,1351.3 1022.0,1178.4 935.6,1178.4" fill="url(#g39)" stroke="url(#g39)"/>
<polygon points="1022.0,1351.3 1108.5,1351.3 1108.5,1178.4" fill="url(#g40)" stroke="url(#g40)"/>
<polygon points="1022.0,1351.3 1108.5,1178.4 1022.0,1178.4" fill="url(#g41)" stroke="url(#g41)"/>
<polygon points="1108.5,1351.3 1194.9,1351.3 1194.9,1178.4" fill="#0000ff" stroke="#0000ff"/>
<polygon points="1108.5,1351.3 1194.9,1178.4 1108.5,1178.4" fill="url(#g42)" stroke="url(#g42)"/>
<polygon points="1194.9,1351.3 1281.3,1351.3 1281.3,1178.4" fill="#0000ff" stroke="#0000ff"/>
<polygon points="1194.9,1351.3 1281.3,1178.4 1194.9,1178.4" fill="#0000ff" stroke="#0000ff"/>
<polygon points="1281.3,1351.3 1367.8,1351.3 1367.8,1178.4" fill="#0000ff" stroke="#0000ff"/>
<polygon points="1281.3,1351.3 1367.8,1178.4 1281.3,1178.4" fill="#0000ff" stroke="#0000ff"/>
<polygon points="1367.8,1351.3 1454.2,1351.3 1454.2,1178.4" fill="#0000ff" stroke="#0000ff"/>
<polygon points="1367.8,1351.3 1454.2,1178.4 1367.8,1178.4" fill="#0000ff" stroke="#0000ff"/>
<polygon points="1454.2,1351.3 1540.7,1351.3 1540.7,1178.4" fill="#0000ff" stroke="#0000ff"/>
<polygon points="1454.2,1351.3 1540.7,1178.4 1454.2,1178.4" fill="#0000ff" stroke="#0000ff"/>
<polygon points="1540.7,1351.3 1627.1,1351.3 1627.1,1178.4" fill="#0000ff" stroke="#0000ff"/>
<polygon points="1540.7,1351.3 1627.1,1178.4 1540.7,1178.4" fill="#0000ff" stroke="#0000ff"/>
<polygon points="1627.1,1351.3 1713.5,1351.3 1713.5,1178.4" fill="#0000ff" stroke="#0000ff"/>
<polygon points="1627.1,1351.3 1713.5,1178.4 1627.1,1178.4" fill="#0000ff" stroke="#0000ff"/>
<polygon points="1713.5,1351.3 1800.0,1351.3 1800.0,1178.4" fill="#0000ff" stroke="#0000ff"/>
<polygon points="1713.5,1351.3 1800.0,1178.4 1713.5,1178.4" fill="#0000ff" stroke="#0000ff"/>
<polygon points="1800.0,1351.3 1886.4,1351.3 1886.4,1178.4" fill="#0000ff" stroke="#0000ff"/>
<polygon points="1800.0,1351.3 1886.4,1178.4 1800.0,1178.4" fill="#0000ff" stroke="#0000ff"/>
<polygon points="1886.4,1351.3 1972.9,1351.3 1972.9,1178.4" fill="#0000ff" stroke="#0000ff"/>
<polygon points="1886.4,1351.3 1972.9,1178.4 1886.4,1178.4" fill="#0000ff" stroke="#0000ff"/>
<polygon points="1972.9,1351.3 2059.3,1351.3 2059.3,1178.4" fill="#0000ff" stroke="#0000ff"/>
<polygon points="1972.9,1351.3 2059.3,1178.4 1972.9,1178.4" fill="#0000ff" stroke="#0000ff"/>
<polygon points="330.5,1178.4 416.9,1178.4 416.9,1005.5" fill="url(#g43)" stroke="url(#g43)"/>
<polygon points="330.5,1178.4 416.9,1005.5 330.5,1005.5" fill="url(#g44)" stroke="url(#g44)"/>
<polygon points="416.9,1178.4 503.4,1178.4 503.4,1005.5" fill="url(#g45)" stroke="url(#g45)"/>
<polygon points="416.9,1178.4 503.4,1005.5 416.9,1005.5" fill="url(#g46)" stroke="url(#g46)"/>
<polygon points="503.4,1178.4 589.8,1178.4 589.8,1005.5" fill="url(#g47)" stroke="url(#g47)"/>
<polygon points="503.4,1178.4 589.8,1005.5 503.4,1005.5" fill="url(#g48)" stroke="url(#g48)"/>
<polygon points="589.8,1178.4 676.3,1178.4 589.8,1005.5" fill="url(#g49)" stroke="url(#g49)"/>
<polygon points="676.3,1178.4 676.3,1005.5 589.8,1005.5" fill="url(#g50)" stroke="url(#g50)"/>
<polygon points="676.3,1178.4 762.7,1178.4 676.3,1005.5" fill="url(#g51)" stroke="url(#g51)"/>
<polygon points="762.7,1178.4 762.7,1005.5 676.3,1005.5" fill="url(#g52)" stroke="url(#g52)"/>
<polygon points="762.7,1178.4 849.1,1178.4 762.7,1005.5" fill="url(#g53)" stroke="url(#g53)"/>
<polygon points="849.1,1178.4 849.1,1005.5 762.7,1005.5" fill="url(#g54)" stroke="url(#g54)"/>
<polygon points="849.1,1178.4 935.6,1178.4 935.6,1005.5" fill="url(#g55)" stroke="url(#g55)"/>
<polygon points="849.1,1178.4 935.6,1005.5 849.1,1005.5" fill="url(#g56)" stroke="url(#g56)"/>
<polygon points="935.6,1178.4 1022.0,1178.4 1022.0,1005.5" fill="url(#g57)" stroke="url(#g57)"/>
<polygon points="935.6,1178.4 1022.0,1005.5 935.6,1005.5" fill="url(#g58)" stroke="url(#g58)"/>
<polygon points="1022.0,1178.4 1108.5,1178.4 1108.5,1005.5" fill="url(#g59)" stroke="url(#g59)"/>
<polygon points="1022.0,1178.4 1108.5,1005.5 1022.0,1005.5" fill="url(#g60)" stroke="url(#g60)"/>
<polygon points="1108.5,1178.4 1194.9,1178.4 1194.9,1005.5" fill="url(#g61)" stroke="url(#g61)"/>
<polygon points="1108.5,1178.4 1194.9,1005.5 1108.5,1005.5" fill="url(#g62)" stroke="url(#g62)"/>
<polygon points="1194.9,1178.4 1281.3,1178.4 1281.3,1005.5" fill="url(#g63)" stroke="url(#g63)"/>
<polygon points="1194.9,1178.4 1281.3,1005.5 1194.9,1005.5" fill="url(#g64)" stroke="url(#g64)"/>
<polygon points="1281.3,1178.4 1367.8,1178.4 1367.8,1005.5" fill="url(#g65)" stroke="url(#g65)"/>
<polygon points="1281.3,1178.4 1367.8,1005.5 1281.3,1005.5" fill="url(#g66)" stroke="url(#g66)"/>
<polygon points="1367.8,1178.4 1454.2,1178.4 1454.2,1005.5" fill="url(#g67)" stroke="url(#g67)"/>
<polygon points="1367.8,1178.4 1454.2,1005.5 1367.8,1005.5" fill="url(#g68)" stroke="url(#g68)"/>
<polygon points="1454.2,1178.4 1540.7,1178.4 1540.7,1005.5" fill="#0000ff" stroke="#0000ff"/>
<polygon points="1454.2,1178.4 1540.7,1005.5 1454.2,1005.5" fill="url(#g69)" stroke="url(#g69)"/>
<polygon points="1540.7,1178.4 1627.1,1178.4 1627.1,1005.5" fill="#0000ff" stroke="#0000ff"/>
<polygon points="1540.7,1178.4 1627.1,1005.5 1540.7,1005.5" fill="#0000ff" stroke="#0000ff"/>
<polygon points="1627.1,1178.4 1713.5,1178.4 1713.5,1005.5" fill="#0000ff" stroke="#0000ff"/>
<polygon points="1627.1,1178.4 1713.5,1005.5 1627.1,1005.5" fill="#0000ff" stroke="#0000ff"/>
<polygon points="1713.5,1178.4 1800.0,1178.4 1800.0,1005.5" fill="#0000ff" stroke="#0000ff"/>
<polygon points="1713.5,1178.4 1800.0,1005.5 1713.5,1005.5" fill="#0000ff" stroke="#0000ff"/>
<polygon points="1800.0,1178.4 1886.4,1178.4 1886.4,1005.5" fill="#0000ff" stroke="#0000ff"/>
<polygon points="1800.0,1178.4 1886.4,1005.5 1800.0,1005.5" fill="#0000ff" stroke="#0000ff"/>
<polygon points="1886.4,1178.4 1972.9,1178.4 1972.9,1005.5" fill="#0000ff" stroke="#0000ff"/>
<polygon points="1886.4,1178.4 1972.9,1005.5 1886.4,1005.5" fill="#0000ff" stroke="#0000ff"/>
<polygon points="1972.9,1178.4 2059.3,1178.4 2059.3,1005.5" fill="#0000ff" stroke="#0000ff"/>
<polygon points="1972.9,1178.4 2059.3,1005.5 1972.9,1005.5" fill="#0000ff" stroke="#0000ff"/>
<polygon points="330.5,1005.5 416.9,1005.5 330.5,832.6" fill="url(#g70)" stroke="url(#g70)"/>
<polygon points="416.9,1005.5 416.9,832.6 330.5,832.6" fill="url(#g71)" stroke="url(#g71)"/>
<polygon points="416.9,1005.5 503.4,1005.5 416.9,832.6" fill="url(#g72)" stroke="url(#g72)"/>
<polygon points="503.4,1005.5 503.4,832.6 416.9,832.6" fill="url(#g73)" stroke="url(#g73)"/>
<polygon points="503.4,1005.5 589.8,1005.5 589.8,832.6" fill="url(#g74)" stroke="url(#g74)"/>
<polygon points="503.4,1005.5 589.8,832.6 503.4,832.6" fill="url(#g75)" stroke="url(#g75)"/>
<polygon points="589.8,1005.5 676.3,1005.5 676.3,832.6" fill="url(#g76)" stroke="url(#g76)"/>
<polygon points="589.8,1005.5 676.3,832.6 589.8,832.6" fill="url(#g77)" stroke="url(#g77)"/>
<polygon points="676.3,1005.5 762.7,1005.5 762.7,832.6" fill="url(#g78)" stroke="url(#g78)"/>
<polygon points="676.3,1005.5 762.7,832.6 676.3,832.6" fill="url(#g79)" stroke="url(#g79)"/>
<polygon points="762.7,1005.5 849.1,1005.5 849.1,832.6" fill="url(#g80)" stroke="url(#g80)"/>
<polygon points="762.7,1005.5 849.1,832.6 762.7,832.6" fill="url(#g81)" stroke="url(#g81)"/>
<polygon points="849.1,1005.5 935.6,1005.5 849.1,832.6" fill="url(#g82)" stroke="url(#g82)"/>
<polygon points="935.6,1005.5 935.6,832.6 849.1,832.6" fill="url(#g83)" stroke="url(#g83)"/>
<polygon points="935.6,1005.5 1022.0,1005.5 935.6,832.6" fill="url(#g84)" stroke="url(#g84)"/>
<polygon points="1022.0,1005.5 1022.0,832.6 935.6,832.6" fill="url(#g85)" stroke="url(#g85)"/>
<polygon points="1022.0,1005.5 1108.5,1005.5 1022.0,832.6" fill="url(#g86)" stroke="url(#g86)"/>
<polygon points="1108.5,1005.5 1108.5,832.6 1022.0,832.6" fill="url(#g87)" stroke="url(#g87)"/>
<polygon points="1108.5,1005.5 1194.9,1005.5 1194.9,832.6" fill="url(#g88)" stroke="url(#g88)"/>
<polygon points="1108.5,1005.5 1194.9,832.6 1108.5,832.6" fill="url(#g89)" stroke="url(#g89)"/>
<polygon points="1194.9,1005.5 1281.3,1005.5 1281.3,832.6" fill="url(#g90)" stroke="url(#g90)"/>
<polygon points="1194.9,1005.5 1281.3,832.6 1194.9,832.6" fill="url(#g91)" stroke="url(#g91)"/>
<polygon points="1281.3,1005.5 1367.8,1005.5 1367.8,832.6" fill="url(#g92)" stroke="url(#g92)"/>
<polygon points="1281.3,1005.5 1367.8,832.6 1281.3,832.6" fill="url(#g93)" stroke="url(#g93)"/>
<polygon points="1367.8,1005.5 1454.2,1005.5 1454.2,832.6" fill="url(#g94)" stroke="url(#g94)"/>
<polygon points="1367.8,1005.5 1454.2,832.6 1367.8,832.6" fill="url(#g95)" stroke="url(#g95)"/>
<polygon points="1454.2,1005.5 1540.7,1005.5 1540.7,832.6" fill="url(#g96)" stroke="url(#g96)"/>
<polygon points="1454.2,1005.5 1540.7,832.6 1454.2,832.6" fill="url(#g97)" stroke="url(#g97)"/>
<polygon points="1540.7,1005.5 1627.1,1005.5 1627.1,832.6" fill="url(#g98)" stroke="url(#g98)"/>
<polygon points="1540.7,1005.5 1627.1,832.6 1540.7,832.6" fill="url(#g99)" stroke="url(#g99)"/>
<polygon points="1627.1,1005.5 1713.5,1005.5 1713.5,832.6" fill="url(#g100)" stroke="url(#g100)"/>
<polygon points="1627.1,1005.5 1713.5,832.6 1627.1,832.6" fill="url(#g101)" stroke="url(#g101)"/>
<polygon points="1713.5,1005.5 1800.0,1005.5 1800.0,832.6" fill="url(#g102)" stroke="url(#g102)"/>
<polygon points="1713.5,1005.5 1800.0,832.6 1713.5,832.6" fill="url(#g103)" stroke="url(#g103)"/>
<polygon points="1800.0,1005.5 1886.4,1005.5 1886.4,832.6" fill="#0000ff" stroke="#0000ff"/>
<polygon points="1800.0,1005.5 1886.4,832.6 1800.0,832.6" fill="url(#g104)" stroke="url(#g104)"/>
<polygon points="1886.4,1005.5 1972.9,1005.5 1972.9,832.6" fill="#0000ff" stroke="#0000ff"/>
<polygon points="1886.4,1005.5 1972.9,832.6 1886.4,832.6" fill="#0000ff" stroke="#0000ff"/>
<polygon points="1972.9,1005.5 2059.3,1005.5 2059.3,832.6" fill="#0000ff" stroke="#0000ff"/>
<polygon points="1972.9,1005.5 2059.3,832.6 1972.9,832.6" fill="#0000ff" stroke="#0000ff"/>
<polygon points="330.5,832.6 416.9,832.6 330.5,659.7" fill="url(#g105)" stroke="url(#g105)"/>
<polygon points="416.9,832.6 416.9,659.7 330.5,659.7" fill="url(#g106)" stroke="url(#g106)"/>
<polygon points="416.9,832.6 503.4,832.6 416.9,659.7" fill="url(#g107)" stroke="url(#g107)"/>
<polygon points="503.4,832.6 503.4,659.7 416.9,659.7" fill="url(#g108)" stroke="url(#g108)"/>
<polygon points="503.4,832.6 589.8,832.6 589.8,659.7" fill="url(#g109)" stroke="url(#g109)"/>
<polygon points="503.4,832.6 589.8,659.7 503.4,659.7" fill="url(#g110)" stroke="url(#g110)"/>
<polygon points="589.8,832.6 676.3,832.6 589.8,659.7" fill="url(#g111)" stroke="url(#g111)"/>
<polygon points="676.3,832.6 676.3,659.7 589.8,659.7" fill="url(#g112)" stroke="url(#g112)"/>
<polygon points="676.3,832.6 762.7,832.6 676.3,659.7" fill="url(#g113)" stroke="url(#g113)"/>
<polygon points="762.7,832.6 762.7,659.7 676.3,659.7" fill="url(#g114)" stroke="url(#g114)"/>
<polygon points="762.7,832.6 849.1,832.6 849.1,659.7" fill="url(#g115)" stroke="url(#g115)"/>
<polygon points="762.7,832.6 849.1,659.7 762.7,659.7" fill="url(#g116)" stroke="url(#g116)"/>
<polygon points="849.1,832.6 935.6,832.6 935.6,659.7" fill="url(#g117)" stroke="url(#g117)"/>
<polygon points="849.1,832.6 935.6,659.7 849.1,659.7" fill="url(#g118)" stroke="url(#g118)"/>
<polygon points="935.6,832.6 1022.0,832.6 1022.0,659.7" fill="url(#g119)" stroke="url(#g119)"/>
<polygon points="935.6,832.6 1022.0,659.7 935.6,659.7" fill="url(#g120)" stroke="url(#g120)"/>
<polygon points="1022.0,832.6 1108.5,832.6 1108.5,659.7" fill="url(#g121)" stroke="url(#g121)"/>
<polygon points="1022.0,832.6 1108.5,659.7 1022.0,659.7" fill="url(#g122)" stroke="url(#g122)"/>
<polygon points="1108.5,832.6 1194.9,832.6 1194.9,659.7" fill="url(#g123)" stroke="url(#g123)"/>
<polygon points="1108.5,832.6 1194.9,659.7 1108.5,659.7" fill="url(#g124)" stroke="url(#g124)"/>
<polygon points="1194.9,832.6 1281.3,832.6 1194.9,659.7" fill="url(#g125)" stroke="url(#g125)"/>
<polygon points="1281.3,832.6 1281.3,659.7 1194.9,659.7" fill="url(#g126)" stroke="url(#g126)"/>
<polygon points="1281.3,832.6 1367.8,832.6 1281.3,659.7" fill="url(#g127)" stroke="url(#g127)"/>
<polygon points="1367.8,832.6 1367.8,659.7 1281.3,659.7" fill="url(#g128)" stroke="url(#g128)"/>
<polygon points="1367.8,832.6 1454.2,832.6 1367.8,659.7" fill="url(#g129)" stroke="url(#g129)"/>
<polygon points="1454.2,832.6 1454.2,659.7 1367.8,659.7" fill="url(#g130)" stroke="url(#g130)"/>
<polygon points="1454.2,832.6 1540.7,832.6 1540.7,659.7" fill="url(#g131)" stroke="url(#g131)"/>
<polygon points="1454.2,832.6 1540.7,659.7 1454.2,659.7" fill="url(#g132)" stroke="url(#g132)"/>
<polygon points="1540.7,832.6 1627.1,832.6 1627.1,659.7" fill="url(#g133)" stroke="url(#g133)"/>
<polygon points="1540.7,832.6 1627.1,659.7 1540.7,659.7" fill="url(#g134)" stroke="url(#g134)"/>
<polygon points="1627.1,832.6 1713.5,832.6 1713.5,659.7" fill="url(#g135)" stroke="url(#g135)"/>
<polygon points="1627.1,832.6 1713.5,659.7 1627.1,659.7" fill="url(#g136)" stroke="url(#g136)"/>
<polygon points="1713.5,832.6 1800.0,832.6 1800.0,659.7" fill="url(#g137)" stroke="url(#g137)"/>
<polygon points="1713.5,832.6 1800.0,659.7 1713.5,659.7" fill="url(#g138)" stroke="url(#g138)"/>
<polygon points="1800.0,832.6 1886.4,832.6 1886.4,659.7" fill="url(#g139)" stroke="url(#g139)"/>
<polygon points="1800.0,832.6 1886.4,659.7 1800.0,659.7" fill="url(#g140)" stroke="url(#g140)"/>
<polygon points="1886.4,832.6 1972.9,832.6 1972.9,659.7" fill="url(#g141)" stroke="url(#g141)"/>
<polygon points="1886.4,832.6 1972.9,659.7 1886.4,659.7" fill="url(#g142)" stroke="url(#g142)"/>
<polygon points="1972.9,832.6 2059.3,832.6 2059.3,659.7" fill="url(#g143)" stroke="url(#g143)"/>
<polygon points="1972.9,832.6 2059.3,659.7 1972.9,659.7" fill="url(#g144)" stroke="url(#g144)"/>
<polygon points="330.5,659.7 416.9,659.7 330.5,486.9" fill="url(#g145)" stroke="url(#g145)"/>
<polygon points="416.9,659.7 416.9,486.9 330.5,486.9" fill="url(#g146)" stroke="url(#g146)"/>
<polygon points="416.9,659.7 503.4,659.7 416.9,486.9" fill="url(#g147)" stroke="url(#g147)"/>
<polygon points="503.4,659.7 503.4,486.9 416.9,486.9" fill="url(#g148)" stroke="url(#g148)"/>
<polygon points="503.4,659.7 589.8,659.7 503.4,486.9" fill="url(#g149)" stroke="url(#g149)"/>
<polygon points="589.8,659.7 589.8,486.9 503.4,486.9" fill="url(#g150)" stroke="url(#g150)"/>
<polygon points="589.8,659.7 676.3,659.7 589.8,486.9" fill="url(#g151)" stroke="url(#g151)"/>
<polygon points="676.3,659.7 676.3,486.9 589.8,486.9" fill="url(#g152)" stroke="url(#g152)"/>
<polygon points="676.3,659.7 762.7,659.7 676.3,486.9" fill="url(#g153)" stroke="url(#g153)"/>
<polygon points="762.7,659.7 762.7,486.9 676.3,486.9" fill="url(#g154)" stroke="url(#g154)"/>
<polygon points="762.7,659.7 849.1,659.7 849.1,486.9" fill="url(#g155)" stroke="url(#g155)"/>
<polygon points="762.7,659.7 849.1,486.9 762.7,486.9" fill="url(#g156)" stroke="url(#g156)"/>
<polygon points="849.1,659.7 935.6,659.7 849.1,486.9" fill="url(#g157)" stroke="url(#g157)"/>
<polygon points="935.6,659.7 935.6,486.9 849.1,486.9" fill="url(#g158)" stroke="url(#g158)"/>
<polygon points="935.6,659.7 1022.0,659.7 935.6,486.9" fill="url(#g159)" stroke="url(#g159)"/>
<polygon points="1022.0,659.7 1022.0,486.9 935.6,486.9" fill="url(#g160)" stroke="url(#g160)"/>
<polygon points="1022.0,659.7 1108.5,659.7 1022.0,486.9" fill="url(#g161)" stroke="url(#g161)"/>
<polygon points="1108.5,659.7 1108.5,486.9 1022.0,486.9" fill="url(#g162)" stroke="url(#g162)"/>
<polygon points="1108.5,659.7 1194.9,659.7 1194.9,486.9" fill="url(#g163)" stroke="url(#g163)"/>
<polygon points="1108.5,659.7 1194.9,486.9 1108.5,486.9" fill="url(#g164)" stroke="url(#g164)"/>
<polygon points="1194.9,659.7 1281.3,659.7 1281.3,486.9" fill="url(#g165)" stroke="url(#g165)"/>
<polygon points="1194.9,659.7 1281.3,486.9 1194.9,486.9" fill="url(#g166)" stroke="url(#g166)"/>
<polygon points="1281.3,659.7 1367.8,659.7 1367.8,486.9" fill="url(#g167)" stroke="url(#g167)"/>
<polygon points="1281.3,659.7 1367.8,486.9 1281.3,486.9" fill="url(#g168)" stroke="url(#g168)"/>
<polygon points="1367.8,659.7 1454.2,659.7 1454.2,486.9" fill="url(#g169)" stroke="url(#g169)"/>
<polygon points="1367.8,659.7 1454.2,486.9 1367.8,486.9" fill="url(#g170)" stroke="url(#g170)"/>
<polygon points="1454.2,659.7 1540.7,659.7 1454.2,486.9" fill="url(#g171)" stroke="url(#g171)"/>
<polygon points="1540.7,659.7 1540.7,486.9 1454.2,486.9" fill="url(#g172)" stroke="url(#g172)"/>
<polygon points="1540.7,659.7 1627.1,659.7 1540.7,486.9" fill="url(#g173)" stroke="url(#g173)"/>
<polygon points="1627.1,659.7 1627.1,486.9 1540.7,486.9" fill="url(#g174)" stroke="url(#g174)"/>
<polygon points="1627.1,659.7 1713.5,659.7 1627.1,486.9" fill="url(#g175)" stroke="url(#g175)"/>
<polygon points="1713.5,659.7 1713.5,486.9 1627.1,486.9" fill="url(#g176)" stroke="url(#g176)"/>
<polygon points="1713.5,659.7 1800.0,659.7 1713.5,486.9" fill="url(#g177)" stroke="url(#g177)"/>
<polygon points="1800.0,659.7 1800.0,486.9 1713.5,486.9" fill="url(#g178)" stroke="url(#g178)"/>
<polygon points="1800.0,659.7 1886.4,659.7 1886.4,486.9" fill="url(#g179)" stroke="url(#g179)"/>
<polygon points="1800.0,659.7 1886.4,486.9 1800.0,486.9" fill="url(#g180)" stroke="url(#g180)"/>
<polygon points="1886.4,659.7 1972.9,659.7 1972.9,486.9" fill="url(#g181)" stroke="url(#g181)"/>
<polygon points="1886.4,659.7 1972.9,486.9 1886.4,486.9" fill="url(#g182)" stroke="url(#g182)"/>
<polygon points="1972.9,659.7 2059.3,659.7 2059.3,486.9" fill="url(#g183)" stroke="url(#g183)"/>
<polygon points="1972.9,659.7 2059.3,486.9 1972.9,486.9" fill="url(#g184)" stroke="url(#g184)"/>
<polygon points="330.5,486.9 416.9,486.9 330.5,314.0" fill="url(#g185)" stroke="url(#g185)"/>
<polygon points="416.9,486.9 416.9,314.0 330.5,314.0" fill="url(#g186)" stroke="url(#g186)"/>
<polygon points="416.9,486.9 503.4,486.9 416.9,314.0" fill="url(#g187)" stroke="url(#g187)"/>
<polygon points="503.4,486.9 503.4,314.0 416.9,314.0" fill="url(#g188)" stroke="url(#g188)"/>
<polygon points="503.4,486.9 589.8,486.9 503.4,314.0" fill="url(#g189)" stroke="url(#g189)"/>
<polygon points="589.8,486.9 589.8,314.0 503.4,314.0" fill="url(#g190)" stroke="url(#g190)"/>
<polygon points="589.8,486.9 676.3,486.9 589.8,314.0" fill="url(#g191)" stroke="url(#g191)"/>
<polygon points="676.3,486.9 676.3,314.0 589.8,314.0" fill="url(#g192)" stroke="url(#g192)"/>
<polygon points="676.3,486.9 762.7,486.9 676.3,314.0" fill="url(#g193)" stroke="url(#g193)"/>
<polygon points="762.7,486.9 762.7,314.0 676.3,314.0" fill="url(#g194)" stroke="url(#g194)"/>
<polygon points="762.7,486.9 849.1,486.9 849.1,314.0" fill="url(#g195)" stroke="url(#g195)"/>
<polygon points="762.7,486.9 849.1,314.0 762.7,314.0" fill="url(#g196)" stroke="url(#g196)"/>
<polygon points="849.1,486.9 935.6,486.9 935.6,314.0" fill="url(#g197)" stroke="url(#g197)"/>
<polygon points="849.1,486.9 935.6,314.0 849.1,314.0" fill="url(#g198)" stroke="url(#g198)"/>
<polygon points="935.6,486.9 1022.0,486.9 1022.0,314.0" fill="url(#g199)" stroke="url(#g199)"/>
<polygon points="935.6,486.9 1022.0,314.0 935.6,314.0" fill="url(#g200)" stroke="url(#g200)"/>
<polygon points="1022.0,486.9 1108.5,486.9 1022.0,314.0" fill="url(#g201)" stroke="url(#g201)"/>
<polygon points="1108.5,486.9 1108.5,314.0 1022.0,314.0" fill="url(#g202)" stroke="url(#g202)"/>
<polygon points="1108.5,486.9 1194.9,486.9 1194.9,314.0" fill="url(#g203)" stroke="url(#g203)"/>
<polygon points="1108.5,486.9 1194.9,314.0 1108.5,314.0" fill="url(#g204)" stroke="url(#g204)"/>
<polygon points="1194.9,486.9 1281.3,486.9 1194.9,314.0" fill="url(#g205)" stroke="url(#g205)"/>
<polygon points="1281.3,486.9 1281.3,314.0 1194.9,314.0" fill="url(#g206)" stroke="url(#g206)"/>
<polygon points="1281.3,486.9 1367.8,486.9 1281.3,314.0" fill="url(#g207)" stroke="url(#g207)"/>
<polygon points="1367.8,486.9 1367.8,314.0 1281.3,314.0" fill="url(#g208)" stroke="url(#g208)"/>
<polygon points="1367.8,486.9 1454.2,486.9 1367.8,314.0" fill="url(#g209)" stroke="url(#g209)"/>
<polygon points="1454.2,486.9 1454.2,314.0 1367.8,314.0" fill="url(#g210)" stroke="url(#g210)"/>
<polygon points="1454.2,486.9 1540.7,486.9 1540.7,314.0" fill="url(#g211)" stroke="url(#g211)"/>
<polygon points="1454.2,486.9 1540.7,314.0 1454.2,314.0" fill="url(#g212)" stroke="url(#g212)"/>
<polygon points="1540.7,486.9 1627.1,486.9 1627.1,314.0" fill="url(#g213)" stroke="url(#g213)"/>
<polygon points="1540.7,486.9 1627.1,314.0 1540.7,314.0" fill="url(#g214)" stroke="url(#g214)"/>
<polygon points="1627.1,486.9 1713.5,486.9 1713.5,314.0" fill="url(#g215)" stroke="url(#g215)"/>
<polygon points="1627.1,486.9 1713.5,314.0 1627.1,314.0" fill="url(#g216)" stroke="url(#g216)"/>
<polygon points="1713.5,486.9 1800.0,486.9 1800.0,314.0" fill="url(#g217)" stroke="url(#g217)"/>
<polygon points="1713.5,486.9 1800.0,314.0 1713.5,314.0" fill="url(#g218)" stroke="url(#g218)"/>
<polygon points="1800.0,486.9 1886.4,486.9 1800.0,314.0" fill="url(#g219)" stroke="url(#g219)"/>
<polygon points="1886.4,486.9 1886.4,314.0 1800.0,314.0" fill="url(#g220)" stroke="url(#g220)"/>
<polygon points="1886.4,486.9 1972.9,486.9 1886.4,314.0" fill="url(#g221)" stroke="url(#g221)"/>
<polygon points="1972.9,486.9 1972.9,314.0 1886.4,314.0" fill="url(#g222)" stroke="url(#g222)"/>
<polygon points="1972.9,486.9 2059.3,486.9 2059.3,314.0" fill="url(#g223)" stroke="url(#g223)"/>
<polygon points="1972.9,486.9 2059.3,314.0 1972.9,314.0" fill="url(#g224)" stroke="url(#g224)"/>
<polygon points="330.5,314.0 416.9,314.0 416.9,141.1" fill="url(#g225)" stroke="url(#g225)"/>
<polygon points="330.5,314.0 416.9,141.1 330.5,141.1" fill="url(#g226)" stroke="url(#g226)"/>
<polygon points="416.9,314.0 503.4,314.0 503.4,141.1" fill="url(#g227)" stroke="url(#g227)"/>
<polygon points="416.9,314.0 503.4,141.1 416.9,141.1" fill="url(#g228)" stroke="url(#g228)"/>
<polygon points="589.8,314.0 676.3,314.0 676.3,141.1" fill="url(#g229)" stroke="url(#g229)"/>
<polygon points="589.8,314.0 676.3,141.1 589.8,141.1" fill="url(#g230)" stroke="url(#g230)"/>
<polygon points="676.3,314.0 762.7,314.0 676.3,141.1" fill="url(#g231)" stroke="url(#g231)"/>
<polygon points="762.7,314.0 762.7,141.1 676.3,141.1" fill="url(#g232)" stroke="url(#g232)"/>
<polygon points="762.7,314.0 849.1,314.0 762.7,141.1" fill="url(#g233)" stroke="url(#g233)"/>
<polygon points="849.1,314.0 849.1,141.1 762.7,141.1" fill="url(#g234)" stroke="url(#g234)"/>
<polygon points="849.1,314.0 935.6,314.0 849.1,141.1" fill="url(#g235)" stroke="url(#g235)"/>
<polygon points="935.6,314.0 935.6,141.1 849.1,141.1" fill="url(#g236)" stroke="url(#g236)"/>
<polygon points="935.6,314.0 1022.0,314.0 935.6,141.1" fill="url(#g237)" stroke="url(#g237)"/>
<polygon points="1022.0,314.0 1022.0,141.1 935.6,141.1" fill="url(#g238)" stroke="url(#g238)"/>
<polygon points="1022.0,314.0 1108.5,314.0 1022.0,141.1" fill="url(#g239)" stroke="url(#g239)"/>
<polygon points="1108.5,314.0 1108.5,141.1 1022.0,141.1" fill="url(#g240)" stroke="url(#g240)"/>
<polygon points="1108.5,314.0 1194.9,314.0 1108.5,141.1" fill="url(#g241)" stroke="url(#g241)"/>
<polygon points="1194.9,314.0 1194.9,141.1 1108.5,141.1" fill="url(#g242)" stroke="url(#g242)"/>
<polygon points="1194.9,314.0 1281.3,314.0 1281.3,141.1" fill="url(#g243)" stroke="url(#g243)"/>
<polygon points="1194.9,314.0 1281.3,141.1 1194.9,141.1" fill="url(#g244)" stroke="url(#g244)"/>
<polygon points="1281.3,314.0 1367.8,314.0 1281.3,141.1" fill="url(#g245)" stroke="url(#g245)"/>
<polygon points="1367.8,314.0 1367.8,141.1 1281.3,141.1" fill="url(#g246)" stroke="url(#g246)"/>
<polygon points="1367.8,314.0 1454.2,314.0 1367.8,141.1" fill="url(#g247)" stroke="url(#g247)"/>
<polygon points="1454.2,314.0 1454.2,141.1 1367.8,141.1" fill="url(#g248)" stroke="url(#g248)"/>
<polygon points="1454.2,314.0 1540.7,314.0 1540.7,141.1" fill="url(#g249)" stroke="url(#g249)"/>
<polygon points="1454.2,314.0 1540.7,141.1 1454.2,141.1" fill="url(#g250)" stroke="url(#g250)"/>
<polygon points="1540.7,314.0 1627.1,314.0 1540.7,141.1" fill="url(#g251)" stroke="url(#g251)"/>
<polygon points="1627.1,314.0 1627.1,141.1 1540.7,141.1" fill="url(#g252)" stroke="url(#g252)"/>
<polygon points="1627.1,314.0 1713.5,314.0 1627.1,141.1" fill="url(#g253)" stroke="url(#g253)"/>
<polygon points="1713.5,314.0 1713.5,141.1 1627.1,141.1" fill="url(#g254)" stroke="url(#g254)"/>
<polygon points="1713.5,314.0 1800.0,314.0 1713.5,141.1" fill="url(#g255)" stroke="url(#g255)"/>
<polygon points="1800.0,314.0 1800.0,141.1 1713.5,141.1" fill="url(#g256)" stroke="url(#g256)"/>
<polygon points="1800.0,314.0 1886.4,314.0 1800.0,141.1" fill="url(#g257)" stroke="url(#g257)"/>
<polygon points="1886.4,314.0 1886.4,141.1 1800.0,141.1" fill="url(#g258)" stroke="url(#g258)"/>
<polygon points="1886.4,314.0 1972.9,314.0 1886.4,141.1" fill="url(#g259)" stroke="url(#g259)"/>
<polygon points="1972.9,314.0 1972.9,141.1 1886.4,141.1" fill="url(#g260)" stroke="url(#g260)"/>
<polygon points="1972.9,314.0 2059.3,314.0 2059.3,141.1" fill="url(#g261)" stroke="url(#g261)"/>
<polygon points="1972.9,314.0 2059.3,141.1 1972.9,141.1" fill="url(#g262)" stroke="url(#g262)"/>
<polygon points="503.4,314.0 567.3,141.1 503.4,141.1" fill="url(#g263)" stroke="url(#g263)"/>
<polygon points="503.4,314.0 589.8,314.0 567.3,141.1" fill="url(#g264)" stroke="url(#g264)"/>
<polygon points="589.8,314.0 589.8,141.1 567.3,141.1" fill="url(#g265)" stroke="url(#g265)"/>
</g>
</g>
<rect x="2111.8" y="147.7" width="149.4" height="1721.5" fill="url(#cbg)"/>
<rect x="2111.8" y="1863.2" width="149.4" height="6.0" fill="#000"/>
</g>
<g class="cl" clip-path="url(#pc)" filter="url(#softl)">
<path d="M330.5 1677.1 L418.7 1670.2 L472.3 1523.3 L484.4 1514.6 L591.5 1510.3 L657.2 1350.4 L849.1 1324.5 L911.4 1176.7 L971.9 1166.3 L1068.7 1153.3 L1108.5 1150.7 L1170.7 1003.8 L1302.1 987.3 L1373.0 987.3 L1454.2 952.8 L1506.1 831.8 L1639.2 830.0 L1720.5 804.1 L1801.7 774.7 L1848.4 655.4 L1978.0 642.5 L2062.8 642.5"/>
<path d="M328.8 1003.8 L385.8 1003.8 L328.8 1025.4Z"/>
<path d="M591.5 832.6 L648.6 832.6 L591.5 850.8Z"/>
<path d="M849.1 655.4 L940.8 655.4 L849.1 685.7Z"/>
<path d="M1194.9 483.4 L1271.0 483.4 L1194.9 499.8Z"/>
<path d="M1540.7 312.3 L1637.5 312.3 L1540.7 328.7Z"/>
</g>
<g class="lab" filter="url(#softb)">
<text x="329.0" y="328.2">41.79</text>
<text x="1020.5" y="438.2">41.79</text>
<text x="502.0" y="731.6">35.85</text>
<text x="760.0" y="1003.2">41.79</text>
<text x="503.0" y="1231.2">35.85</text>
<text x="329.5" y="1418.4">41.79</text>
<text x="483.5" y="1557.5">0.7418</text>
<text x="980.5" y="1206.8">0.4945</text>
<text x="1607.0" y="977.6">0.2473</text>
</g>
<g filter="url(#softt)">
<text class="tk" text-anchor="end" x="292.0" y="1892.3">0.60</text>
<text class="tk" text-anchor="end" x="292.0" y="1719.4">0.62</text>
<text class="tk" text-anchor="end" x="292.0" y="1546.5">0.64</text>
<text class="tk" text-anchor="end" x="292.0" y="1373.6">0.66</text>
<text class="tk" text-anchor="end" x="292.0" y="1200.7">0.68</text>
<text class="tk" text-anchor="end" x="292.0" y="1027.8">0.70</text>
<text class="tk" text-anchor="end" x="292.0" y="854.9">0.72</text>
<text class="tk" text-anchor="end" x="292.0" y="682.0">0.74</text>
<text class="tk" text-anchor="end" x="292.0" y="509.1">0.76</text>
<text class="tk" text-anchor="end" x="292.0" y="336.2">0.78</text>
<text class="tk" text-anchor="end" x="292.0" y="163.3">0.80</text>
<text class="tk" text-anchor="middle" x="328.0" y="1968.2">100</text>
<text class="tk" text-anchor="middle" x="673.8" y="1968.2">120</text>
<text class="tk" text-anchor="middle" x="1019.5" y="1968.2">140</text>
<text class="tk" text-anchor="middle" x="1365.3" y="1968.2">160</text>
<text class="tk" text-anchor="middle" x="1711.0" y="1968.2">180</text>
<text class="tk" text-anchor="middle" x="2056.8" y="1968.2">200</text>
<text class="cb" x="2282.5" y="164.8">54.40</text>
<text class="cb" x="2282.5" y="320.8">49.45</text>
<text class="cb" x="2282.5" y="632.7">39.56</text>
<text class="cb" x="2282.5" y="944.5">29.67</text>
<text class="cb" x="2282.5" y="1256.3">19.78</text>
<text class="cb" x="2282.5" y="1568.1">9.891</text>
<text class="cb" x="2282.5" y="1880.0">0.000</text>
<text class="ttl" x="1955.0" y="107.0">Loss (dB/m)</text>
<text class="ttl" text-anchor="middle" x="1195.0" y="2113.0">Rb (mm)</text>
<text class="ttl" text-anchor="middle" transform="translate(94.5 1003.0) rotate(-90)">d/D</text>
</g>
</svg>
</body>
</html>
